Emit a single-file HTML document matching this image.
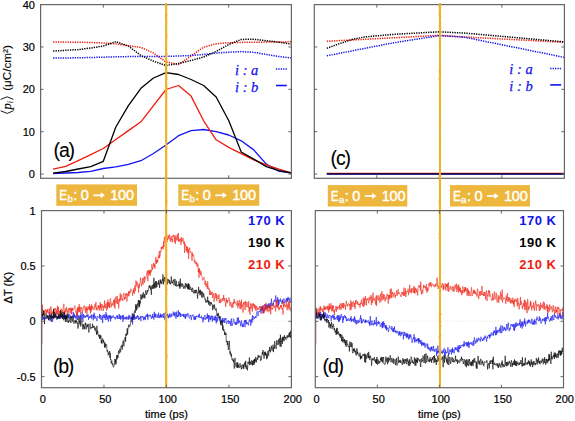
<!DOCTYPE html>
<html><head><meta charset="utf-8"><style>
html,body{margin:0;padding:0;background:#fff;}
body{width:575px;height:421px;overflow:hidden;}
svg{display:block;font-family:"Liberation Sans",sans-serif;}
</style></head><body>
<svg width="575" height="421" viewBox="0 0 575 421">
<rect width="575" height="421" fill="#fff"/>
<polyline points="53.14,42.10 65.68,42.10 78.22,42.20 90.76,42.50 103.30,43.00 115.84,43.90 128.38,45.70 140.92,47.40 153.46,53.00 166.00,62.00 178.54,64.50 191.08,55.80 203.62,47.20 216.16,43.80 228.70,42.80 241.24,42.40 253.78,42.20 266.32,42.10 278.86,42.00 291.40,41.80" fill="none" stroke="#ee1c0e" stroke-width="1.5" stroke-dasharray="1.3 1.1" stroke-linejoin="round" opacity="1"/>
<polyline points="53.14,58.10 65.68,58.00 78.22,57.80 90.76,57.50 103.30,57.20 115.84,56.80 128.38,56.60 140.92,56.50 153.46,56.40 166.00,56.40 178.54,56.00 191.08,55.50 203.62,54.50 216.16,53.00 228.70,52.20 241.24,51.60 253.78,52.30 266.32,54.50 278.86,56.50 291.40,58.00" fill="none" stroke="#1414ee" stroke-width="1.5" stroke-dasharray="1.3 1.1" stroke-linejoin="round" opacity="1"/>
<polyline points="53.14,51.10 65.68,50.30 78.22,49.60 90.76,48.00 103.30,46.00 115.84,41.70 128.38,46.00 140.92,55.50 153.46,61.20 166.00,65.50 178.54,63.50 191.08,60.50 203.62,57.00 216.16,51.50 228.70,44.50 241.24,39.40 253.78,39.30 266.32,40.70 278.86,42.20 291.40,44.10" fill="none" stroke="#000" stroke-width="1.5" stroke-dasharray="1.3 1.1" stroke-linejoin="round" opacity="1"/>
<polyline points="53.14,173.50 65.68,173.00 78.22,172.50 90.76,171.40 103.30,168.50 115.84,166.80 128.38,164.30 140.92,160.70 153.46,153.50 166.00,145.00 178.54,135.70 191.08,130.70 203.62,129.50 216.16,131.60 228.70,135.00 241.24,140.80 253.78,149.90 266.32,164.10 278.86,171.20 291.40,173.20" fill="none" stroke="#1414ee" stroke-width="1.3" stroke-linejoin="round" opacity="1"/>
<polyline points="53.14,169.20 65.68,166.40 78.22,160.60 90.76,154.60 103.30,148.50 115.84,139.50 128.38,130.60 140.92,121.80 153.46,105.60 166.00,89.50 178.54,85.50 191.08,96.10 203.62,120.80 216.16,139.80 228.70,147.40 241.24,153.60 253.78,159.90 266.32,164.90 278.86,169.10 291.40,172.90" fill="none" stroke="#ee1c0e" stroke-width="1.3" stroke-linejoin="round" opacity="1"/>
<polyline points="53.14,173.20 65.68,171.50 78.22,169.00 90.76,166.60 103.30,161.30 115.84,127.00 128.38,105.60 140.92,88.30 153.46,78.00 166.00,72.70 178.54,74.50 191.08,79.50 203.62,85.50 216.16,97.00 228.70,120.50 241.24,152.00 253.78,159.10 266.32,166.60 278.86,170.70 291.40,172.90" fill="none" stroke="#000" stroke-width="1.3" stroke-linejoin="round" opacity="1"/>
<polyline points="326.81,41.27 339.31,40.62 351.81,39.98 364.32,39.33 376.82,38.69 389.33,38.04 401.83,37.37 414.34,36.68 426.85,36.00 439.35,35.31 451.86,36.12 464.36,36.96 476.87,37.63 489.37,38.30 501.88,38.97 514.38,39.63 526.88,40.30 539.39,40.97 551.89,41.63 564.40,42.30" fill="none" stroke="#ee1c0e" stroke-width="1.5" stroke-dasharray="1.3 1.1" stroke-linejoin="round" opacity="1"/>
<polyline points="326.81,55.78 339.31,53.35 351.81,50.91 364.32,48.48 376.82,46.04 389.33,43.61 401.83,41.48 414.34,39.53 426.85,37.57 439.35,35.62 451.86,36.42 464.36,37.26 476.87,39.70 489.37,42.23 501.88,44.76 514.38,47.29 526.88,49.81 539.39,52.34 551.89,54.87 564.40,57.40" fill="none" stroke="#1414ee" stroke-width="1.5" stroke-dasharray="1.3 1.1" stroke-linejoin="round" opacity="1"/>
<polyline points="326.81,48.28 339.31,43.69 351.81,39.57 364.32,36.98 376.82,35.85 389.33,34.72 401.83,33.87 414.34,33.18 426.85,32.50 439.35,31.81 451.86,32.43 464.36,33.07 476.87,34.15 489.37,35.26 501.88,36.36 514.38,37.47 526.88,38.58 539.39,39.69 551.89,40.79 564.40,41.90" fill="none" stroke="#000" stroke-width="1.5" stroke-dasharray="1.3 1.1" stroke-linejoin="round" opacity="1"/>
<polyline points="326.81,173.50 339.31,173.50 351.81,173.50 364.32,173.50 376.82,173.50 389.33,173.50 401.83,173.50 414.34,173.50 426.85,173.50 439.35,173.50 451.86,173.50 464.36,173.50 476.87,173.50 489.37,173.50 501.88,173.50 514.38,173.50 526.88,173.50 539.39,173.50 551.89,173.50 564.40,173.50" fill="none" stroke="#ee1c0e" stroke-width="1.3" stroke-linejoin="round" opacity="1"/>
<polyline points="326.81,174.10 339.31,174.10 351.81,174.10 364.32,174.10 376.82,174.10 389.33,174.10 401.83,174.10 414.34,174.10 426.85,174.10 439.35,174.10 451.86,174.10 464.36,174.10 476.87,174.10 489.37,174.10 501.88,174.10 514.38,174.10 526.88,174.10 539.39,174.10 551.89,174.10 564.40,174.10" fill="none" stroke="#1414ee" stroke-width="1.3" stroke-linejoin="round" opacity="1"/>
<polyline points="326.81,173.80 339.31,173.80 351.81,173.80 364.32,173.80 376.82,173.80 389.33,173.80 401.83,173.80 414.34,173.80 426.85,173.80 439.35,173.80 451.86,173.80 464.36,173.80 476.87,173.80 489.37,173.80 501.88,173.80 514.38,173.80 526.88,173.80 539.39,173.80 551.89,173.80 564.40,173.80" fill="none" stroke="#000" stroke-width="1.2" stroke-linejoin="round" opacity="0.8"/>
<line x1="41.5" y1="321.29" x2="291.4" y2="321.29" stroke="#ccc" stroke-width="0.6" stroke-dasharray="1 2"/>
<line x1="315.3" y1="321.29" x2="563.5" y2="321.29" stroke="#ccc" stroke-width="0.6" stroke-dasharray="1 2"/>
<line x1="42.20" y1="314.6" x2="42.20" y2="344.5" stroke="#a02020" stroke-width="0.9" opacity="0.45"/>
<line x1="316.00" y1="314.6" x2="316.00" y2="344.5" stroke="#a02020" stroke-width="0.9" opacity="0.45"/>
<polyline points="41.5,318.9 41.8,319.8 42.2,318.8 42.5,315.5 42.8,319.9 43.2,319.0 43.5,317.0 43.8,319.2 44.2,318.8 44.5,318.6 44.8,318.0 45.2,319.1 45.5,316.5 45.8,317.6 46.2,316.9 46.5,319.1 46.8,317.9 47.2,317.3 47.5,316.3 47.8,317.3 48.2,317.8 48.5,317.2 48.8,320.3 49.2,319.7 49.5,312.3 49.8,313.9 50.2,317.3 50.5,316.8 50.8,318.1 51.2,318.0 51.5,321.8 51.8,315.3 52.2,316.8 52.5,321.6 52.8,318.8 53.2,318.8 53.5,316.4 53.8,314.1 54.2,317.8 54.5,317.6 54.8,314.9 55.2,316.0 55.5,317.2 55.8,315.4 56.2,317.1 56.5,317.5 56.8,317.3 57.2,316.2 57.5,318.4 57.8,319.0 58.2,317.8 58.5,315.5 58.8,318.6 59.2,316.1 59.5,318.9 59.9,314.9 60.2,318.9 60.5,317.0 60.9,314.5 61.2,316.4 61.5,317.1 61.9,317.5 62.2,315.0 62.5,314.7 62.9,317.3 63.2,315.9 63.5,317.3 63.9,318.4 64.2,313.5 64.5,317.3 64.9,319.2 65.2,316.2 65.5,315.1 65.9,318.2 66.2,317.2 66.5,318.5 66.9,316.0 67.2,313.7 67.5,316.4 67.9,315.7 68.2,318.1 68.5,316.9 68.9,313.3 69.2,314.1 69.5,318.3 69.9,317.8 70.2,315.2 70.5,316.4 70.9,317.3 71.2,317.3 71.5,318.1 71.9,316.9 72.2,316.1 72.5,315.8 72.9,318.4 73.2,311.8 73.5,316.1 73.9,316.4 74.2,313.5 74.5,317.0 74.9,315.1 75.2,318.1 75.5,316.2 75.9,317.8 76.2,318.9 76.5,317.2 76.9,314.7 77.2,313.4 77.5,320.0 77.9,316.3 78.2,315.1 78.5,316.8 78.9,316.1 79.2,318.2 79.5,316.6 79.9,316.6 80.2,315.1 80.5,317.5 80.9,314.5 81.2,317.9 81.5,319.7 81.9,313.6 82.2,311.7 82.5,317.9 82.9,321.8 83.2,314.7 83.5,314.2 83.9,317.9 84.2,315.0 84.5,315.7 84.9,316.0 85.2,317.8 85.5,315.9 85.9,317.3 86.2,316.4 86.5,315.1 86.9,316.2 87.2,314.9 87.5,316.8 87.9,314.6 88.2,314.7 88.5,319.8 88.9,316.8 89.2,316.8 89.5,317.9 89.9,316.1 90.2,316.5 90.5,317.8 90.9,317.5 91.2,314.6 91.5,318.6 91.9,315.8 92.2,314.9 92.5,315.2 92.9,316.2 93.2,320.3 93.5,314.7 93.9,317.4 94.2,312.8 94.5,317.1 94.9,318.9 95.2,316.6 95.6,315.9 95.9,317.6 96.2,318.5 96.6,318.5 96.9,321.1 97.2,317.6 97.6,316.0 97.9,316.9 98.2,317.1 98.6,317.4 98.9,317.2 99.2,317.6 99.6,313.9 99.9,318.9 100.2,316.1 100.6,314.9 100.9,318.6 101.2,320.0 101.6,318.3 101.9,317.7 102.2,315.5 102.6,323.1 102.9,319.1 103.2,315.1 103.6,315.8 103.9,317.6 104.2,314.3 104.6,317.8 104.9,316.5 105.2,319.9 105.6,319.4 105.9,312.1 106.2,317.6 106.6,314.3 106.9,319.8 107.2,317.9 107.6,318.7 107.9,315.4 108.2,321.2 108.6,321.6 108.9,315.5 109.2,318.4 109.6,316.3 109.9,317.6 110.2,315.1 110.6,321.4 110.9,315.8 111.2,317.1 111.6,318.7 111.9,316.5 112.2,317.3 112.6,316.6 112.9,317.5 113.2,315.5 113.6,316.9 113.9,317.4 114.2,317.2 114.6,318.0 114.9,317.3 115.2,319.4 115.6,317.3 115.9,317.6 116.2,316.6 116.6,316.9 116.9,315.4 117.2,319.0 117.6,315.7 117.9,316.5 118.2,318.7 118.6,318.8 118.9,317.2 119.2,314.0 119.6,318.9 119.9,318.6 120.2,315.3 120.6,319.7 120.9,316.7 121.2,315.9 121.6,318.3 121.9,317.8 122.2,318.6 122.6,315.0 122.9,321.8 123.2,317.0 123.6,315.2 123.9,319.5 124.2,317.6 124.6,318.9 124.9,317.6 125.2,318.2 125.6,318.8 125.9,316.8 126.2,319.7 126.6,317.4 126.9,316.6 127.2,318.5 127.6,319.3 127.9,318.0 128.2,316.7 128.6,319.7 128.9,314.9 129.2,316.4 129.6,318.6 129.9,315.8 130.2,318.6 130.6,318.4 130.9,320.3 131.3,316.6 131.6,317.1 131.9,319.0 132.3,313.4 132.6,324.5 132.9,316.9 133.3,316.8 133.6,319.9 133.9,318.1 134.3,314.6 134.6,319.4 134.9,319.8 135.3,317.2 135.6,317.5 135.9,319.0 136.3,316.2 136.6,318.8 136.9,318.3 137.3,316.5 137.6,315.1 137.9,317.4 138.3,316.1 138.6,319.8 138.9,318.0 139.3,319.3 139.6,318.0 139.9,318.2 140.3,316.1 140.6,318.9 140.9,321.1 141.3,316.9 141.6,316.3 141.9,317.2 142.3,316.5 142.6,316.0 142.9,317.7 143.3,316.8 143.6,320.2 143.9,317.3 144.3,317.9 144.6,319.2 144.9,316.6 145.3,320.1 145.6,315.9 145.9,315.5 146.3,316.4 146.6,316.8 146.9,314.2 147.3,316.9 147.6,313.6 147.9,319.7 148.3,316.8 148.6,315.6 148.9,315.0 149.3,316.1 149.6,316.4 149.9,314.7 150.3,314.9 150.6,316.3 150.9,315.6 151.3,318.5 151.6,318.9 151.9,316.6 152.3,317.5 152.6,313.9 152.9,317.8 153.3,316.4 153.6,317.4 153.9,319.6 154.3,311.8 154.6,316.9 154.9,314.1 155.3,317.5 155.6,313.6 155.9,315.3 156.3,316.6 156.6,317.4 156.9,316.3 157.3,314.5 157.6,315.0 157.9,317.8 158.3,316.0 158.6,312.6 158.9,317.7 159.3,316.8 159.6,317.7 159.9,315.2 160.3,317.5 160.6,313.7 160.9,316.9 161.3,314.8 161.6,317.1 161.9,317.7 162.3,314.2 162.6,315.5 162.9,315.7 163.3,318.0 163.6,317.0 163.9,313.1 164.3,316.4 164.6,317.0 164.9,319.7 165.3,312.1 165.6,314.3 165.9,318.0 166.3,312.6 166.6,312.9 167.0,316.3 167.3,317.3 167.6,313.9 168.0,316.3 168.3,315.5 168.6,318.2 169.0,315.2 169.3,317.2 169.6,313.4 170.0,314.8 170.3,314.9 170.6,317.4 171.0,316.3 171.3,313.6 171.6,316.4 172.0,316.6 172.3,314.8 172.6,314.5 173.0,314.6 173.3,311.6 173.6,315.3 174.0,315.4 174.3,313.2 174.6,316.4 175.0,312.2 175.3,313.8 175.6,313.9 176.0,318.8 176.3,311.6 176.6,315.9 177.0,316.7 177.3,315.5 177.6,317.1 178.0,312.7 178.3,310.2 178.6,316.3 179.0,312.3 179.3,314.0 179.6,312.3 180.0,316.8 180.3,316.4 180.6,313.3 181.0,316.5 181.3,315.0 181.6,314.5 182.0,315.0 182.3,314.5 182.6,316.1 183.0,315.6 183.3,314.3 183.6,317.0 184.0,313.8 184.3,315.7 184.6,316.0 185.0,318.1 185.3,314.2 185.6,318.7 186.0,315.6 186.3,314.9 186.6,314.0 187.0,316.6 187.3,315.5 187.6,313.3 188.0,313.3 188.3,314.4 188.6,314.2 189.0,317.8 189.3,318.4 189.6,317.4 190.0,316.4 190.3,314.9 190.6,315.9 191.0,317.6 191.3,320.1 191.6,317.7 192.0,315.4 192.3,316.1 192.6,315.1 193.0,314.5 193.3,315.7 193.6,316.5 194.0,319.8 194.3,316.3 194.6,319.0 195.0,319.8 195.3,316.5 195.6,319.6 196.0,317.8 196.3,315.6 196.6,317.0 197.0,316.6 197.3,316.1 197.6,316.2 198.0,316.9 198.3,317.5 198.6,314.9 199.0,316.7 199.3,313.7 199.6,317.3 200.0,318.1 200.3,317.2 200.6,317.5 201.0,318.1 201.3,315.7 201.6,316.6 202.0,318.1 202.3,319.1 202.7,317.9 203.0,322.3 203.3,317.1 203.7,319.3 204.0,319.9 204.3,317.1 204.7,315.8 205.0,315.1 205.3,317.8 205.7,319.7 206.0,318.1 206.3,318.0 206.7,316.9 207.0,318.8 207.3,313.5 207.7,318.2 208.0,317.9 208.3,315.1 208.7,322.2 209.0,315.2 209.3,315.8 209.7,315.6 210.0,320.3 210.3,316.3 210.7,319.5 211.0,319.4 211.3,318.7 211.7,315.6 212.0,317.1 212.3,321.7 212.7,315.8 213.0,316.8 213.3,318.1 213.7,320.1 214.0,319.0 214.3,320.1 214.7,316.5 215.0,320.6 215.3,319.8 215.7,315.6 216.0,321.9 216.3,323.4 216.7,317.3 217.0,319.0 217.3,321.7 217.7,316.0 218.0,315.0 218.3,316.5 218.7,318.0 219.0,318.0 219.3,320.4 219.7,319.8 220.0,316.8 220.3,320.5 220.7,323.2 221.0,321.9 221.3,321.6 221.7,319.8 222.0,321.8 222.3,318.0 222.7,321.5 223.0,319.9 223.3,322.5 223.7,321.2 224.0,318.2 224.3,320.8 224.7,323.0 225.0,318.4 225.3,319.7 225.7,319.4 226.0,318.0 226.3,323.0 226.7,323.8 227.0,322.9 227.3,321.9 227.7,321.4 228.0,322.1 228.3,320.2 228.7,323.6 229.0,323.9 229.3,323.8 229.7,320.9 230.0,322.2 230.3,321.7 230.7,325.7 231.0,322.5 231.3,318.5 231.7,323.1 232.0,326.1 232.3,323.8 232.7,324.2 233.0,322.6 233.3,318.6 233.7,319.0 234.0,320.2 234.3,322.5 234.7,323.4 235.0,324.2 235.3,322.2 235.7,324.9 236.0,322.5 236.3,321.7 236.7,324.8 237.0,321.4 237.3,317.8 237.7,321.2 238.0,323.6 238.4,317.3 238.7,322.8 239.0,322.9 239.4,320.7 239.7,320.7 240.0,322.8 240.4,322.6 240.7,326.2 241.0,324.3 241.4,320.4 241.7,321.7 242.0,324.8 242.4,327.1 242.7,324.0 243.0,323.8 243.4,326.9 243.7,323.1 244.0,322.4 244.4,320.2 244.7,321.9 245.0,327.2 245.4,320.0 245.7,322.8 246.0,319.9 246.4,322.9 246.7,324.3 247.0,322.0 247.4,323.9 247.7,323.8 248.0,323.0 248.4,325.3 248.7,323.2 249.0,320.8 249.4,319.8 249.7,319.3 250.0,321.7 250.4,319.8 250.7,325.7 251.0,323.7 251.4,319.3 251.7,318.9 252.0,322.7 252.4,315.2 252.7,317.8 253.0,320.3 253.4,316.3 253.7,316.9 254.0,316.9 254.4,318.6 254.7,317.2 255.0,317.5 255.4,317.6 255.7,316.2 256.0,318.0 256.4,314.1 256.7,312.3 257.0,311.4 257.4,311.4 257.7,313.2 258.0,316.1 258.4,314.1 258.7,312.3 259.0,311.0 259.4,311.8 259.7,311.8 260.0,311.2 260.4,309.1 260.7,310.8 261.0,313.5 261.4,306.8 261.7,310.4 262.0,306.4 262.4,310.7 262.7,308.6 263.0,305.7 263.4,309.8 263.7,313.0 264.0,309.3 264.4,311.2 264.7,308.5 265.0,304.0 265.4,309.1 265.7,307.0 266.0,304.7 266.4,308.9 266.7,307.7 267.0,305.8 267.4,308.3 267.7,304.6 268.0,307.4 268.4,304.0 268.7,306.7 269.0,303.1 269.4,308.1 269.7,305.3 270.0,307.5 270.4,302.9 270.7,303.4 271.0,306.0 271.4,298.7 271.7,301.9 272.0,306.0 272.4,304.7 272.7,305.6 273.0,302.9 273.4,304.6 273.7,301.8 274.1,300.4 274.4,299.7 274.7,301.8 275.1,301.7 275.4,301.5 275.7,295.5 276.1,298.5 276.4,301.3 276.7,302.8 277.1,301.0 277.4,300.2 277.7,297.3 278.1,305.8 278.4,299.4 278.7,304.9 279.1,304.5 279.4,301.8 279.7,300.0 280.1,301.3 280.4,298.6 280.7,301.3 281.1,300.8 281.4,301.8 281.7,302.7 282.1,304.2 282.4,299.9 282.7,302.8 283.1,299.1 283.4,298.9 283.7,299.4 284.1,298.7 284.4,302.6 284.7,302.4 285.1,303.1 285.4,300.5 285.7,301.1 286.1,299.4 286.4,298.2 286.7,301.4 287.1,301.0 287.4,298.2 287.7,301.6 288.1,296.9 288.4,300.1 288.7,299.1 289.1,299.3 289.4,298.2 289.7,302.2 290.1,301.5 290.4,302.7 290.7,300.6 291.1,297.7 291.4,299.5" fill="none" stroke="#1414ee" stroke-width="0.6" opacity="1.0"/>
<polyline points="41.5,312.2 41.8,310.2 42.2,310.5 42.5,304.8 42.8,316.6 43.2,314.8 43.5,310.7 43.8,313.7 44.2,312.3 44.5,310.0 44.8,314.2 45.2,310.6 45.5,310.6 45.8,309.2 46.2,312.7 46.5,311.1 46.8,312.9 47.2,309.7 47.5,311.7 47.8,308.9 48.2,313.7 48.5,311.9 48.8,312.2 49.2,312.5 49.5,308.5 49.8,313.5 50.2,317.0 50.5,306.7 50.8,306.4 51.2,307.0 51.5,313.6 51.8,311.5 52.2,314.2 52.5,313.2 52.8,311.7 53.2,311.9 53.5,310.6 53.8,313.5 54.2,307.9 54.5,309.9 54.8,311.7 55.2,316.1 55.5,308.9 55.8,308.0 56.2,309.4 56.5,313.7 56.8,310.3 57.2,314.6 57.5,305.7 57.8,314.1 58.2,313.8 58.5,306.9 58.8,311.3 59.2,314.2 59.5,311.1 59.9,313.6 60.2,317.4 60.5,311.5 60.9,310.0 61.2,308.6 61.5,312.6 61.9,310.2 62.2,310.2 62.5,310.4 62.9,312.5 63.2,307.7 63.5,306.4 63.9,303.8 64.2,314.0 64.5,310.8 64.9,314.8 65.2,310.5 65.5,308.5 65.9,311.9 66.2,310.3 66.5,307.0 66.9,308.0 67.2,315.4 67.5,311.5 67.9,311.6 68.2,309.7 68.5,308.5 68.9,312.9 69.2,310.1 69.5,308.2 69.9,310.0 70.2,307.8 70.5,310.9 70.9,313.5 71.2,307.9 71.5,314.3 71.9,308.4 72.2,310.7 72.5,307.9 72.9,309.6 73.2,310.3 73.5,308.9 73.9,308.1 74.2,308.2 74.5,307.7 74.9,305.6 75.2,309.2 75.5,311.1 75.9,312.5 76.2,311.7 76.5,316.7 76.9,310.7 77.2,308.5 77.5,315.0 77.9,306.8 78.2,312.4 78.5,307.0 78.9,310.6 79.2,304.1 79.5,312.1 79.9,309.1 80.2,306.8 80.5,314.2 80.9,311.6 81.2,309.5 81.5,307.3 81.9,309.2 82.2,308.8 82.5,311.3 82.9,311.5 83.2,307.3 83.5,307.6 83.9,307.6 84.2,305.3 84.5,307.4 84.9,308.8 85.2,310.9 85.5,312.7 85.9,306.7 86.2,310.4 86.5,307.6 86.9,314.6 87.2,308.7 87.5,310.2 87.9,306.1 88.2,306.4 88.5,309.2 88.9,307.6 89.2,309.6 89.5,304.2 89.9,310.4 90.2,306.0 90.5,313.3 90.9,307.6 91.2,311.5 91.5,304.5 91.9,309.5 92.2,305.8 92.5,306.9 92.9,308.3 93.2,307.3 93.5,308.9 93.9,310.2 94.2,309.9 94.5,307.8 94.9,304.2 95.2,305.8 95.6,307.4 95.9,302.0 96.2,310.0 96.6,307.2 96.9,307.2 97.2,310.5 97.6,309.7 97.9,308.4 98.2,305.0 98.6,308.7 98.9,308.7 99.2,305.3 99.6,310.6 99.9,309.1 100.2,302.2 100.6,307.9 100.9,303.9 101.2,310.5 101.6,309.5 101.9,304.0 102.2,304.5 102.6,307.1 102.9,306.0 103.2,310.9 103.6,308.5 103.9,305.6 104.2,307.8 104.6,300.4 104.9,306.8 105.2,308.3 105.6,305.2 105.9,303.6 106.2,307.1 106.6,310.9 106.9,305.8 107.2,302.0 107.6,309.1 107.9,299.6 108.2,306.2 108.6,303.0 108.9,307.1 109.2,302.0 109.6,308.0 109.9,305.0 110.2,299.2 110.6,298.4 110.9,302.9 111.2,307.3 111.6,303.9 111.9,303.6 112.2,302.7 112.6,305.3 112.9,304.1 113.2,303.7 113.6,300.1 113.9,306.0 114.2,306.4 114.6,298.8 114.9,308.7 115.2,304.1 115.6,300.5 115.9,296.4 116.2,303.4 116.6,303.0 116.9,299.6 117.2,296.1 117.6,304.1 117.9,299.1 118.2,299.3 118.6,308.4 118.9,306.2 119.2,302.8 119.6,298.7 119.9,301.6 120.2,293.2 120.6,299.8 120.9,297.2 121.2,295.5 121.6,294.5 121.9,300.3 122.2,298.9 122.6,298.9 122.9,300.7 123.2,295.8 123.6,294.5 123.9,292.9 124.2,296.7 124.6,299.6 124.9,296.9 125.2,299.0 125.6,293.7 125.9,295.5 126.2,294.5 126.6,293.0 126.9,301.6 127.2,298.6 127.6,293.9 127.9,293.7 128.2,295.6 128.6,291.5 128.9,296.4 129.2,291.2 129.6,293.4 129.9,291.3 130.2,292.5 130.6,289.8 130.9,288.7 131.3,290.1 131.6,290.6 131.9,291.3 132.3,292.0 132.6,295.7 132.9,293.4 133.3,290.1 133.6,292.5 133.9,288.2 134.3,293.9 134.6,291.0 134.9,285.3 135.3,290.9 135.6,290.7 135.9,280.6 136.3,285.7 136.6,286.1 136.9,281.6 137.3,283.7 137.6,283.6 137.9,287.3 138.3,286.4 138.6,292.5 138.9,283.7 139.3,287.7 139.6,284.3 139.9,284.5 140.3,280.1 140.6,277.6 140.9,280.4 141.3,284.3 141.6,286.3 141.9,283.2 142.3,282.5 142.6,278.4 142.9,284.7 143.3,283.8 143.6,278.2 143.9,279.2 144.3,276.2 144.6,282.7 144.9,279.4 145.3,277.6 145.6,278.7 145.9,278.4 146.3,275.6 146.6,273.0 146.9,272.5 147.3,270.9 147.6,276.7 147.9,281.2 148.3,269.9 148.6,274.7 148.9,275.1 149.3,270.8 149.6,273.8 149.9,269.8 150.3,275.8 150.6,270.2 150.9,271.4 151.3,272.4 151.6,268.7 151.9,264.2 152.3,267.1 152.6,270.0 152.9,267.0 153.3,267.3 153.6,262.9 153.9,265.7 154.3,266.7 154.6,264.1 154.9,268.7 155.3,262.1 155.6,259.1 155.9,256.9 156.3,264.0 156.6,259.9 156.9,262.2 157.3,259.9 157.6,262.5 157.9,260.8 158.3,255.5 158.6,256.6 158.9,258.2 159.3,250.9 159.6,257.8 159.9,256.4 160.3,255.0 160.6,251.0 160.9,251.7 161.3,247.0 161.6,249.6 161.9,247.1 162.3,248.3 162.6,245.9 162.9,247.4 163.3,249.1 163.6,241.4 163.9,247.0 164.3,238.1 164.6,236.8 164.9,241.8 165.3,241.4 165.6,241.9 165.9,235.3 166.3,239.0 166.6,239.1 167.0,242.0 167.3,238.0 167.6,239.6 168.0,235.2 168.3,237.2 168.6,236.3 169.0,239.3 169.3,234.4 169.6,234.6 170.0,238.4 170.3,241.7 170.6,237.9 171.0,237.8 171.3,236.1 171.6,240.3 172.0,238.9 172.3,242.4 172.6,238.6 173.0,235.2 173.3,236.4 173.6,235.4 174.0,234.8 174.3,242.0 174.6,240.8 175.0,235.3 175.3,243.9 175.6,239.7 176.0,236.5 176.3,240.4 176.6,239.3 177.0,237.4 177.3,234.3 177.6,239.9 178.0,240.8 178.3,232.9 178.6,241.8 179.0,242.1 179.3,239.1 179.6,240.9 180.0,239.9 180.3,238.5 180.6,239.9 181.0,244.9 181.3,237.1 181.6,242.0 182.0,242.0 182.3,239.6 182.6,240.5 183.0,237.9 183.3,239.7 183.6,242.7 184.0,244.2 184.3,241.3 184.6,253.0 185.0,243.4 185.3,245.9 185.6,245.5 186.0,245.6 186.3,250.9 186.6,246.5 187.0,252.2 187.3,252.2 187.6,246.6 188.0,253.1 188.3,248.9 188.6,259.0 189.0,250.8 189.3,249.8 189.6,247.7 190.0,250.0 190.3,252.5 190.6,251.8 191.0,251.7 191.3,253.7 191.6,255.6 192.0,260.8 192.3,252.5 192.6,256.2 193.0,255.6 193.3,254.6 193.6,255.8 194.0,257.3 194.3,262.4 194.6,260.4 195.0,259.9 195.3,263.7 195.6,263.3 196.0,262.4 196.3,264.6 196.6,261.9 197.0,266.7 197.3,266.9 197.6,265.2 198.0,263.6 198.3,272.0 198.6,268.8 199.0,277.8 199.3,268.1 199.6,273.1 200.0,270.2 200.3,272.8 200.6,275.2 201.0,271.3 201.3,274.0 201.6,275.5 202.0,276.1 202.3,278.2 202.7,280.2 203.0,280.4 203.3,279.6 203.7,278.7 204.0,277.3 204.3,279.2 204.7,280.5 205.0,284.7 205.3,282.5 205.7,280.8 206.0,286.8 206.3,283.6 206.7,284.4 207.0,286.4 207.3,288.9 207.7,281.3 208.0,285.4 208.3,289.6 208.7,288.6 209.0,287.7 209.3,289.1 209.7,295.0 210.0,290.3 210.3,294.1 210.7,294.8 211.0,291.8 211.3,294.8 211.7,292.8 212.0,292.9 212.3,291.9 212.7,298.0 213.0,295.0 213.3,294.9 213.7,293.4 214.0,301.8 214.3,298.9 214.7,296.6 215.0,295.2 215.3,293.0 215.7,298.2 216.0,298.4 216.3,293.7 216.7,301.1 217.0,300.1 217.3,295.4 217.7,296.7 218.0,297.2 218.3,299.0 218.7,298.3 219.0,294.2 219.3,303.1 219.7,300.0 220.0,302.8 220.3,302.9 220.7,298.9 221.0,300.6 221.3,301.8 221.7,302.1 222.0,299.6 222.3,298.4 222.7,300.4 223.0,298.2 223.3,299.0 223.7,295.0 224.0,301.1 224.3,298.1 224.7,299.5 225.0,301.1 225.3,302.2 225.7,306.8 226.0,302.2 226.3,297.8 226.7,302.2 227.0,300.3 227.3,303.3 227.7,300.4 228.0,300.4 228.3,301.1 228.7,300.8 229.0,297.5 229.3,300.8 229.7,302.7 230.0,306.2 230.3,302.1 230.7,301.9 231.0,304.6 231.3,304.6 231.7,307.6 232.0,304.8 232.3,303.2 232.7,307.1 233.0,307.7 233.3,302.1 233.7,304.0 234.0,298.9 234.3,302.6 234.7,301.2 235.0,303.2 235.3,302.5 235.7,303.4 236.0,303.7 236.3,305.4 236.7,304.7 237.0,302.6 237.3,300.6 237.7,307.7 238.0,308.3 238.4,303.1 238.7,306.0 239.0,300.3 239.4,300.2 239.7,303.9 240.0,308.8 240.4,301.9 240.7,302.5 241.0,309.4 241.4,299.7 241.7,306.8 242.0,306.5 242.4,304.6 242.7,305.8 243.0,312.6 243.4,302.2 243.7,304.5 244.0,304.8 244.4,303.6 244.7,301.8 245.0,310.1 245.4,306.3 245.7,300.9 246.0,303.9 246.4,307.1 246.7,307.1 247.0,302.0 247.4,305.9 247.7,306.9 248.0,307.3 248.4,307.4 248.7,301.2 249.0,311.6 249.4,307.0 249.7,311.6 250.0,314.6 250.4,306.2 250.7,303.2 251.0,309.1 251.4,306.3 251.7,305.6 252.0,304.0 252.4,311.7 252.7,305.7 253.0,303.1 253.4,305.8 253.7,303.9 254.0,307.6 254.4,306.1 254.7,304.4 255.0,309.1 255.4,305.6 255.7,309.5 256.0,311.1 256.4,306.6 256.7,305.8 257.0,308.3 257.4,310.2 257.7,307.8 258.0,308.2 258.4,307.8 258.7,308.8 259.0,309.8 259.4,306.1 259.7,306.8 260.0,308.3 260.4,306.4 260.7,308.7 261.0,309.8 261.4,308.3 261.7,306.8 262.0,306.2 262.4,313.3 262.7,310.8 263.0,305.2 263.4,305.9 263.7,313.5 264.0,312.5 264.4,308.6 264.7,311.4 265.0,304.0 265.4,308.1 265.7,310.1 266.0,302.8 266.4,305.8 266.7,310.2 267.0,311.1 267.4,306.3 267.7,308.7 268.0,312.3 268.4,306.8 268.7,304.1 269.0,307.6 269.4,306.6 269.7,311.3 270.0,308.1 270.4,305.4 270.7,314.3 271.0,306.2 271.4,308.9 271.7,309.4 272.0,309.7 272.4,307.9 272.7,309.1 273.0,307.2 273.4,303.4 273.7,306.7 274.1,306.7 274.4,306.8 274.7,307.6 275.1,305.5 275.4,310.9 275.7,311.5 276.1,300.9 276.4,307.1 276.7,305.1 277.1,299.7 277.4,308.1 277.7,305.2 278.1,305.9 278.4,305.1 278.7,310.0 279.1,310.4 279.4,307.7 279.7,308.9 280.1,306.6 280.4,307.4 280.7,304.9 281.1,307.1 281.4,305.0 281.7,308.1 282.1,309.3 282.4,307.9 282.7,310.4 283.1,314.6 283.4,301.2 283.7,307.1 284.1,305.5 284.4,305.8 284.7,303.3 285.1,307.3 285.4,306.4 285.7,305.4 286.1,306.4 286.4,305.5 286.7,300.6 287.1,310.2 287.4,306.4 287.7,304.6 288.1,308.1 288.4,305.4 288.7,301.2 289.1,309.7 289.4,302.6 289.7,306.7 290.1,307.6 290.4,311.1 290.7,310.7 291.1,307.8 291.4,305.2" fill="none" stroke="#ee1c0e" stroke-width="0.6" opacity="0.95"/>
<polyline points="41.5,320.9 41.8,309.4 42.2,316.8 42.5,314.4 42.8,314.7 43.2,315.3 43.5,310.8 43.8,315.2 44.2,313.7 44.5,324.1 44.8,316.4 45.2,315.0 45.5,315.2 45.8,314.2 46.2,313.3 46.5,314.9 46.8,317.1 47.2,315.3 47.5,318.3 47.8,315.4 48.2,316.0 48.5,319.8 48.8,317.3 49.2,314.7 49.5,315.5 49.8,317.4 50.2,320.8 50.5,315.3 50.8,315.4 51.2,318.5 51.5,313.8 51.8,315.3 52.2,318.3 52.5,317.5 52.8,316.3 53.2,317.8 53.5,309.0 53.8,318.7 54.2,313.7 54.5,312.0 54.8,316.8 55.2,317.9 55.5,315.1 55.8,313.5 56.2,316.3 56.5,316.1 56.8,319.7 57.2,318.1 57.5,316.7 57.8,319.0 58.2,315.7 58.5,313.9 58.8,317.7 59.2,317.7 59.5,315.7 59.9,314.3 60.2,316.9 60.5,310.2 60.9,318.2 61.2,317.8 61.5,312.6 61.9,317.0 62.2,314.5 62.5,318.9 62.9,312.0 63.2,314.9 63.5,319.1 63.9,320.3 64.2,312.1 64.5,316.4 64.9,318.6 65.2,316.3 65.5,321.9 65.9,315.1 66.2,319.0 66.5,315.6 66.9,321.9 67.2,318.4 67.5,317.6 67.9,314.4 68.2,323.0 68.5,320.8 68.9,320.9 69.2,321.9 69.5,320.1 69.9,317.7 70.2,317.4 70.5,317.5 70.9,323.0 71.2,316.1 71.5,318.3 71.9,319.1 72.2,320.6 72.5,321.6 72.9,317.1 73.2,316.0 73.5,320.5 73.9,323.7 74.2,322.7 74.5,321.5 74.9,320.3 75.2,321.9 75.5,320.7 75.9,323.5 76.2,319.6 76.5,322.1 76.9,321.6 77.2,323.4 77.5,322.7 77.9,328.6 78.2,326.2 78.5,326.3 78.9,317.6 79.2,322.0 79.5,321.4 79.9,324.4 80.2,317.5 80.5,326.3 80.9,326.2 81.2,320.4 81.5,321.3 81.9,321.9 82.2,324.1 82.5,325.8 82.9,329.4 83.2,324.0 83.5,326.5 83.9,325.1 84.2,329.3 84.5,326.8 84.9,328.5 85.2,322.6 85.5,324.9 85.9,323.4 86.2,329.3 86.5,327.3 86.9,325.0 87.2,324.7 87.5,327.2 87.9,324.3 88.2,323.9 88.5,327.5 88.9,332.5 89.2,325.9 89.5,325.2 89.9,323.8 90.2,323.5 90.5,328.2 90.9,329.1 91.2,327.1 91.5,328.0 91.9,327.6 92.2,327.8 92.5,323.7 92.9,326.5 93.2,328.0 93.5,325.9 93.9,326.7 94.2,326.0 94.5,327.3 94.9,330.4 95.2,327.6 95.6,328.7 95.9,331.6 96.2,331.7 96.6,334.8 96.9,325.8 97.2,333.7 97.6,330.8 97.9,332.8 98.2,335.1 98.6,336.2 98.9,336.5 99.2,334.8 99.6,338.9 99.9,334.7 100.2,335.5 100.6,338.4 100.9,335.5 101.2,342.7 101.6,340.4 101.9,343.7 102.2,338.7 102.6,338.3 102.9,340.4 103.2,342.5 103.6,339.9 103.9,343.0 104.2,342.7 104.6,347.5 104.9,342.5 105.2,347.5 105.6,344.0 105.9,343.9 106.2,345.2 106.6,344.7 106.9,348.8 107.2,351.7 107.6,350.2 107.9,352.1 108.2,355.3 108.6,352.6 108.9,353.3 109.2,353.2 109.6,351.0 109.9,358.0 110.2,352.8 110.6,359.9 110.9,359.3 111.2,363.3 111.6,361.4 111.9,360.6 112.2,364.6 112.6,363.4 112.9,365.5 113.2,367.1 113.6,367.2 113.9,366.2 114.2,363.8 114.6,364.6 114.9,358.9 115.2,363.0 115.6,359.6 115.9,364.5 116.2,364.1 116.6,355.2 116.9,359.6 117.2,358.1 117.6,355.0 117.9,358.1 118.2,354.8 118.6,350.7 118.9,353.6 119.2,353.1 119.6,352.9 119.9,348.7 120.2,352.4 120.6,351.8 120.9,346.1 121.2,346.4 121.6,346.9 121.9,344.8 122.2,349.7 122.6,344.9 122.9,340.9 123.2,340.6 123.6,341.5 123.9,346.4 124.2,339.3 124.6,339.1 124.9,339.2 125.2,336.9 125.6,341.8 125.9,333.8 126.2,336.0 126.6,333.6 126.9,333.8 127.2,328.3 127.6,334.7 127.9,329.0 128.2,328.4 128.6,325.1 128.9,324.6 129.2,326.9 129.6,327.0 129.9,325.4 130.2,325.6 130.6,323.4 130.9,320.7 131.3,321.8 131.6,320.2 131.9,317.5 132.3,318.8 132.6,319.4 132.9,316.0 133.3,313.7 133.6,315.6 133.9,317.8 134.3,311.7 134.6,311.2 134.9,310.3 135.3,312.9 135.6,304.5 135.9,309.2 136.3,310.5 136.6,304.6 136.9,309.6 137.3,306.7 137.6,303.5 137.9,304.9 138.3,300.0 138.6,302.0 138.9,307.5 139.3,300.2 139.6,306.5 139.9,301.2 140.3,303.4 140.6,300.5 140.9,294.3 141.3,298.0 141.6,299.4 141.9,295.6 142.3,294.6 142.6,298.4 142.9,295.4 143.3,292.3 143.6,294.5 143.9,297.9 144.3,294.2 144.6,297.3 144.9,298.4 145.3,294.2 145.6,290.9 145.9,290.1 146.3,292.9 146.6,294.8 146.9,292.8 147.3,293.1 147.6,290.2 147.9,291.7 148.3,289.4 148.6,289.3 148.9,286.5 149.3,285.4 149.6,287.7 149.9,285.8 150.3,285.9 150.6,289.7 150.9,287.5 151.3,294.8 151.6,289.6 151.9,285.5 152.3,288.7 152.6,287.4 152.9,284.6 153.3,288.8 153.6,283.9 153.9,277.9 154.3,287.3 154.6,283.5 154.9,288.5 155.3,282.9 155.6,281.3 155.9,287.9 156.3,281.1 156.6,284.1 156.9,286.9 157.3,283.3 157.6,282.6 157.9,282.8 158.3,284.5 158.6,280.3 158.9,283.7 159.3,283.5 159.6,287.8 159.9,281.0 160.3,279.5 160.6,283.5 160.9,280.5 161.3,282.1 161.6,281.6 161.9,284.1 162.3,279.4 162.6,280.7 162.9,274.4 163.3,278.5 163.6,284.4 163.9,278.8 164.3,278.6 164.6,277.2 164.9,281.6 165.3,280.5 165.6,276.9 165.9,281.4 166.3,280.5 166.6,281.8 167.0,278.5 167.3,284.5 167.6,281.3 168.0,280.0 168.3,279.1 168.6,279.9 169.0,282.8 169.3,280.0 169.6,283.5 170.0,282.3 170.3,284.3 170.6,283.1 171.0,281.0 171.3,276.5 171.6,282.1 172.0,283.4 172.3,281.9 172.6,283.0 173.0,280.5 173.3,280.9 173.6,279.5 174.0,285.4 174.3,282.5 174.6,280.9 175.0,278.9 175.3,282.0 175.6,286.1 176.0,283.7 176.3,280.8 176.6,286.3 177.0,286.4 177.3,285.4 177.6,285.0 178.0,286.0 178.3,284.6 178.6,285.2 179.0,281.4 179.3,287.2 179.6,284.1 180.0,288.7 180.3,278.7 180.6,285.7 181.0,286.6 181.3,283.4 181.6,285.6 182.0,286.5 182.3,286.2 182.6,283.6 183.0,284.7 183.3,287.8 183.6,288.6 184.0,285.8 184.3,285.9 184.6,286.3 185.0,288.6 185.3,283.5 185.6,283.0 186.0,286.8 186.3,283.8 186.6,285.3 187.0,287.1 187.3,288.3 187.6,284.6 188.0,289.4 188.3,283.1 188.6,289.1 189.0,283.9 189.3,284.8 189.6,289.8 190.0,287.3 190.3,286.5 190.6,287.5 191.0,290.0 191.3,288.8 191.6,289.1 192.0,292.0 192.3,287.7 192.6,288.5 193.0,288.5 193.3,292.9 193.6,292.6 194.0,293.5 194.3,290.4 194.6,290.3 195.0,292.9 195.3,290.0 195.6,293.2 196.0,293.1 196.3,289.7 196.6,291.4 197.0,291.5 197.3,296.3 197.6,298.6 198.0,292.1 198.3,292.5 198.6,286.9 199.0,293.3 199.3,293.0 199.6,290.5 200.0,295.3 200.3,289.7 200.6,293.3 201.0,294.5 201.3,291.3 201.6,296.9 202.0,297.6 202.3,291.8 202.7,292.0 203.0,297.4 203.3,296.1 203.7,293.4 204.0,296.0 204.3,296.7 204.7,296.9 205.0,299.6 205.3,298.8 205.7,302.5 206.0,301.8 206.3,300.3 206.7,301.6 207.0,302.5 207.3,301.3 207.7,296.7 208.0,302.2 208.3,300.5 208.7,304.7 209.0,301.1 209.3,302.5 209.7,302.3 210.0,306.0 210.3,302.7 210.7,302.0 211.0,303.9 211.3,302.5 211.7,304.4 212.0,304.4 212.3,305.6 212.7,310.1 213.0,304.7 213.3,306.3 213.7,306.1 214.0,308.7 214.3,304.5 214.7,306.2 215.0,308.3 215.3,310.4 215.7,309.5 216.0,308.9 216.3,308.5 216.7,312.7 217.0,315.8 217.3,313.8 217.7,314.2 218.0,315.6 218.3,312.9 218.7,315.3 219.0,316.2 219.3,318.3 219.7,318.3 220.0,316.1 220.3,322.7 220.7,324.9 221.0,320.8 221.3,323.2 221.7,323.7 222.0,325.7 222.3,320.8 222.7,329.5 223.0,325.5 223.3,331.0 223.7,329.3 224.0,329.3 224.3,331.2 224.7,335.0 225.0,331.8 225.3,334.2 225.7,335.1 226.0,333.2 226.3,342.0 226.7,341.4 227.0,341.1 227.3,345.2 227.7,341.1 228.0,344.4 228.3,350.0 228.7,349.3 229.0,342.4 229.3,340.8 229.7,347.7 230.0,354.1 230.3,351.4 230.7,353.1 231.0,356.4 231.3,353.8 231.7,357.6 232.0,360.2 232.3,360.0 232.7,360.4 233.0,358.5 233.3,361.8 233.7,360.0 234.0,364.9 234.3,368.6 234.7,360.9 235.0,357.9 235.3,362.8 235.7,365.2 236.0,367.0 236.3,367.2 236.7,362.7 237.0,362.8 237.3,368.0 237.7,362.2 238.0,367.8 238.4,364.6 238.7,367.2 239.0,367.2 239.4,367.5 239.7,367.7 240.0,363.3 240.4,366.6 240.7,366.0 241.0,366.9 241.4,369.3 241.7,365.7 242.0,364.7 242.4,364.7 242.7,365.9 243.0,368.4 243.4,364.3 243.7,369.1 244.0,366.7 244.4,365.3 244.7,362.3 245.0,366.1 245.4,367.1 245.7,360.8 246.0,368.0 246.4,369.0 246.7,365.5 247.0,365.7 247.4,370.4 247.7,367.3 248.0,361.8 248.4,363.8 248.7,363.3 249.0,363.2 249.4,357.5 249.7,365.1 250.0,361.4 250.4,363.3 250.7,362.4 251.0,364.7 251.4,361.6 251.7,360.2 252.0,363.4 252.4,365.4 252.7,360.9 253.0,365.0 253.4,362.0 253.7,359.9 254.0,364.9 254.4,358.8 254.7,363.2 255.0,359.2 255.4,361.4 255.7,356.9 256.0,357.7 256.4,362.3 256.7,359.8 257.0,359.2 257.4,357.8 257.7,359.8 258.0,355.0 258.4,355.5 258.7,357.7 259.0,355.7 259.4,355.9 259.7,357.2 260.0,356.8 260.4,356.4 260.7,360.9 261.0,359.0 261.4,359.4 261.7,356.0 262.0,354.6 262.4,352.0 262.7,354.5 263.0,350.0 263.4,353.5 263.7,356.6 264.0,358.6 264.4,356.7 264.7,351.9 265.0,355.1 265.4,351.7 265.7,355.5 266.0,352.9 266.4,355.1 266.7,359.2 267.0,354.8 267.4,358.1 267.7,352.5 268.0,351.0 268.4,355.0 268.7,355.7 269.0,349.8 269.4,351.1 269.7,347.0 270.0,349.9 270.4,352.3 270.7,349.6 271.0,348.1 271.4,345.8 271.7,349.9 272.0,350.7 272.4,350.0 272.7,348.8 273.0,344.7 273.4,352.1 273.7,347.2 274.1,346.8 274.4,348.7 274.7,341.2 275.1,346.1 275.4,345.7 275.7,346.7 276.1,348.9 276.4,346.4 276.7,340.4 277.1,343.8 277.4,344.9 277.7,344.5 278.1,340.7 278.4,339.4 278.7,344.7 279.1,343.9 279.4,342.7 279.7,338.2 280.1,346.7 280.4,334.7 280.7,340.8 281.1,346.7 281.4,340.8 281.7,341.5 282.1,337.7 282.4,343.8 282.7,336.9 283.1,340.5 283.4,340.0 283.7,336.7 284.1,341.3 284.4,335.3 284.7,336.9 285.1,338.2 285.4,337.0 285.7,339.0 286.1,339.8 286.4,336.5 286.7,335.7 287.1,335.5 287.4,335.6 287.7,338.2 288.1,335.4 288.4,336.7 288.7,335.2 289.1,333.1 289.4,337.1 289.7,332.1 290.1,334.4 290.4,337.9 290.7,331.1 291.1,333.5 291.4,329.4" fill="none" stroke="#000" stroke-width="0.6" opacity="1.0"/>
<polyline points="315.3,313.8 315.6,314.8 316.0,318.5 316.3,316.5 316.6,312.0 317.0,315.3 317.3,314.1 317.6,315.6 318.0,312.2 318.3,315.9 318.6,315.9 318.9,318.6 319.3,316.2 319.6,316.6 319.9,312.6 320.3,320.1 320.6,311.8 320.9,317.9 321.3,315.1 321.6,314.0 321.9,314.5 322.3,314.5 322.6,316.6 322.9,315.7 323.3,318.9 323.6,312.3 323.9,316.0 324.2,314.3 324.6,317.7 324.9,311.9 325.2,315.5 325.6,316.6 325.9,313.3 326.2,318.3 326.6,316.7 326.9,318.4 327.2,318.3 327.6,314.5 327.9,314.9 328.2,316.1 328.6,318.0 328.9,318.3 329.2,315.2 329.5,315.4 329.9,315.1 330.2,315.6 330.5,316.3 330.9,316.5 331.2,321.0 331.5,315.9 331.9,316.3 332.2,317.9 332.5,315.1 332.9,316.3 333.2,317.1 333.5,318.6 333.9,314.5 334.2,319.9 334.5,316.5 334.9,317.6 335.2,319.0 335.5,318.6 335.8,319.5 336.2,317.7 336.5,317.4 336.8,318.1 337.2,315.5 337.5,320.0 337.8,316.0 338.2,315.1 338.5,321.7 338.8,317.4 339.2,315.3 339.5,321.4 339.8,317.1 340.2,319.9 340.5,316.2 340.8,317.4 341.1,314.5 341.5,314.1 341.8,316.0 342.1,317.9 342.5,319.7 342.8,323.0 343.1,316.1 343.5,320.2 343.8,317.0 344.1,317.9 344.5,315.3 344.8,315.4 345.1,316.8 345.5,316.0 345.8,318.4 346.1,317.1 346.4,321.0 346.8,318.9 347.1,318.9 347.4,320.9 347.8,319.7 348.1,318.6 348.4,318.6 348.8,318.6 349.1,321.0 349.4,320.5 349.8,319.7 350.1,320.6 350.4,318.0 350.8,320.1 351.1,316.3 351.4,321.9 351.8,319.4 352.1,319.7 352.4,320.6 352.7,319.4 353.1,318.9 353.4,321.9 353.7,319.8 354.1,317.8 354.4,320.5 354.7,316.3 355.1,323.1 355.4,319.5 355.7,319.9 356.1,324.4 356.4,324.2 356.7,320.2 357.1,321.3 357.4,322.3 357.7,323.5 358.0,319.9 358.4,320.5 358.7,322.7 359.0,320.9 359.4,321.9 359.7,321.7 360.0,318.2 360.4,318.8 360.7,315.3 361.0,320.1 361.4,323.4 361.7,318.5 362.0,323.2 362.4,322.8 362.7,320.8 363.0,320.9 363.3,321.1 363.7,319.3 364.0,320.5 364.3,321.0 364.7,322.4 365.0,322.8 365.3,319.8 365.7,323.0 366.0,319.8 366.3,321.1 366.7,322.2 367.0,321.5 367.3,321.3 367.7,322.2 368.0,320.6 368.3,320.4 368.7,321.4 369.0,323.7 369.3,321.7 369.6,325.7 370.0,322.4 370.3,316.1 370.6,321.2 371.0,325.4 371.3,322.2 371.6,321.3 372.0,320.5 372.3,325.0 372.6,324.4 373.0,323.7 373.3,323.3 373.6,325.4 374.0,324.2 374.3,320.1 374.6,324.2 374.9,323.0 375.3,322.5 375.6,324.3 375.9,322.9 376.3,317.0 376.6,326.1 376.9,325.1 377.3,322.8 377.6,322.4 377.9,323.7 378.3,320.9 378.6,324.2 378.9,323.2 379.3,323.1 379.6,322.1 379.9,322.7 380.2,326.5 380.6,327.0 380.9,325.5 381.2,324.6 381.6,323.0 381.9,326.4 382.2,328.3 382.6,322.0 382.9,327.7 383.2,321.1 383.6,324.9 383.9,326.5 384.2,323.1 384.6,323.0 384.9,326.5 385.2,328.0 385.6,325.5 385.9,329.2 386.2,325.1 386.5,330.3 386.9,327.2 387.2,327.6 387.5,328.4 387.9,328.0 388.2,331.2 388.5,332.0 388.9,328.9 389.2,327.6 389.5,325.7 389.9,326.7 390.2,328.3 390.5,328.2 390.9,328.5 391.2,328.7 391.5,329.8 391.8,326.3 392.2,327.1 392.5,331.5 392.8,331.1 393.2,328.4 393.5,332.2 393.8,328.4 394.2,329.4 394.5,326.4 394.8,331.9 395.2,330.3 395.5,332.6 395.8,332.0 396.2,330.9 396.5,331.2 396.8,333.4 397.1,330.8 397.5,331.0 397.8,331.6 398.1,333.2 398.5,333.6 398.8,335.7 399.1,331.8 399.5,334.7 399.8,331.0 400.1,333.6 400.5,332.8 400.8,336.2 401.1,334.1 401.5,332.1 401.8,334.3 402.1,334.0 402.5,332.8 402.8,332.9 403.1,331.8 403.4,339.3 403.8,334.2 404.1,336.0 404.4,331.9 404.8,332.2 405.1,334.2 405.4,334.3 405.8,336.4 406.1,332.9 406.4,336.1 406.8,338.2 407.1,333.5 407.4,337.3 407.8,333.7 408.1,336.4 408.4,336.6 408.7,339.5 409.1,334.7 409.4,336.6 409.7,338.5 410.1,334.2 410.4,336.8 410.7,335.2 411.1,335.7 411.4,338.7 411.7,338.9 412.1,342.8 412.4,340.6 412.7,340.6 413.1,337.9 413.4,337.8 413.7,338.9 414.0,334.2 414.4,342.3 414.7,337.8 415.0,337.2 415.4,338.6 415.7,341.5 416.0,342.4 416.4,339.3 416.7,341.1 417.0,340.3 417.4,338.6 417.7,341.1 418.0,341.0 418.4,338.1 418.7,343.5 419.0,338.4 419.4,342.2 419.7,339.8 420.0,340.5 420.3,340.9 420.7,343.9 421.0,340.1 421.3,342.4 421.7,346.1 422.0,341.8 422.3,343.3 422.7,344.9 423.0,342.6 423.3,344.9 423.7,342.8 424.0,345.7 424.3,344.6 424.7,342.8 425.0,347.6 425.3,344.8 425.6,344.6 426.0,343.5 426.3,344.6 426.6,345.6 427.0,346.3 427.3,348.3 427.6,343.7 428.0,345.8 428.3,349.1 428.6,347.2 429.0,347.9 429.3,350.4 429.6,348.1 430.0,348.5 430.3,347.7 430.6,351.5 430.9,350.2 431.3,346.9 431.6,349.6 431.9,346.4 432.3,351.1 432.6,350.4 432.9,348.9 433.3,348.6 433.6,346.0 433.9,351.3 434.3,349.7 434.6,349.5 434.9,351.8 435.3,349.2 435.6,349.5 435.9,349.5 436.3,348.4 436.6,356.1 436.9,351.1 437.2,350.9 437.6,353.6 437.9,345.7 438.2,352.1 438.6,352.4 438.9,350.6 439.2,353.6 439.6,348.8 439.9,352.9 440.2,354.6 440.6,348.5 440.9,350.0 441.2,352.6 441.6,352.9 441.9,351.7 442.2,353.7 442.5,353.5 442.9,350.3 443.2,352.8 443.5,350.5 443.9,348.9 444.2,348.2 444.5,355.1 444.9,352.6 445.2,356.7 445.5,349.7 445.9,351.9 446.2,353.1 446.5,352.1 446.9,353.2 447.2,352.4 447.5,350.8 447.9,347.3 448.2,349.9 448.5,355.2 448.8,353.2 449.2,354.3 449.5,350.3 449.8,350.9 450.2,349.5 450.5,351.9 450.8,351.2 451.2,351.8 451.5,354.4 451.8,349.1 452.2,352.1 452.5,347.7 452.8,352.6 453.2,349.4 453.5,350.1 453.8,350.4 454.1,353.3 454.5,349.8 454.8,348.8 455.1,347.3 455.5,350.0 455.8,347.6 456.1,348.2 456.5,349.0 456.8,350.3 457.1,347.3 457.5,350.0 457.8,352.0 458.1,345.4 458.5,350.9 458.8,352.4 459.1,346.8 459.4,349.0 459.8,344.9 460.1,348.2 460.4,346.7 460.8,347.8 461.1,345.3 461.4,345.3 461.8,345.9 462.1,345.2 462.4,345.3 462.8,346.0 463.1,344.0 463.4,345.8 463.8,346.9 464.1,341.2 464.4,346.0 464.8,344.0 465.1,343.1 465.4,342.5 465.7,343.3 466.1,343.4 466.4,345.4 466.7,342.1 467.1,346.6 467.4,342.7 467.7,345.6 468.1,346.2 468.4,341.5 468.7,345.9 469.1,348.0 469.4,342.7 469.7,344.6 470.1,343.1 470.4,343.4 470.7,342.7 471.0,342.0 471.4,344.3 471.7,344.5 472.0,342.6 472.4,345.5 472.7,344.6 473.0,343.7 473.4,340.7 473.7,345.8 474.0,344.5 474.4,337.5 474.7,339.4 475.0,340.6 475.4,343.3 475.7,343.7 476.0,340.5 476.3,341.5 476.7,342.3 477.0,338.2 477.3,341.8 477.7,339.9 478.0,340.7 478.3,340.1 478.7,337.7 479.0,338.0 479.3,339.9 479.7,340.0 480.0,339.0 480.3,341.6 480.7,338.6 481.0,336.7 481.3,338.4 481.7,338.6 482.0,338.5 482.3,341.0 482.6,339.5 483.0,340.5 483.3,339.5 483.6,337.8 484.0,340.1 484.3,337.3 484.6,338.2 485.0,335.6 485.3,337.7 485.6,336.7 486.0,338.0 486.3,340.7 486.6,341.7 487.0,338.9 487.3,336.6 487.6,338.2 487.9,336.9 488.3,335.1 488.6,336.0 488.9,335.5 489.3,334.7 489.6,338.5 489.9,334.5 490.3,334.5 490.6,336.7 490.9,333.7 491.3,332.6 491.6,333.1 491.9,335.6 492.3,335.2 492.6,334.9 492.9,333.2 493.2,332.1 493.6,335.6 493.9,330.7 494.2,333.0 494.6,330.6 494.9,332.3 495.2,332.6 495.6,335.2 495.9,326.8 496.2,335.1 496.6,330.5 496.9,332.7 497.2,333.5 497.6,330.2 497.9,331.4 498.2,332.4 498.6,331.0 498.9,329.6 499.2,331.3 499.5,331.0 499.9,327.6 500.2,333.1 500.5,330.7 500.9,325.2 501.2,328.2 501.5,333.2 501.9,332.7 502.2,329.9 502.5,325.9 502.9,328.6 503.2,331.0 503.5,329.5 503.9,327.9 504.2,326.9 504.5,329.9 504.8,327.6 505.2,328.6 505.5,328.9 505.8,331.1 506.2,328.1 506.5,328.2 506.8,324.0 507.2,329.7 507.5,329.2 507.8,327.3 508.2,322.7 508.5,326.1 508.8,327.3 509.2,331.2 509.5,328.2 509.8,328.5 510.1,328.5 510.5,329.4 510.8,324.4 511.1,324.9 511.5,324.2 511.8,325.9 512.1,325.7 512.5,326.5 512.8,324.2 513.1,326.3 513.5,324.3 513.8,330.2 514.1,324.8 514.5,330.9 514.8,329.0 515.1,323.3 515.5,327.5 515.8,326.7 516.1,322.4 516.4,326.6 516.8,325.1 517.1,325.9 517.4,323.4 517.8,324.9 518.1,325.8 518.4,324.6 518.8,323.6 519.1,324.4 519.4,322.7 519.8,325.3 520.1,319.4 520.4,327.5 520.8,324.5 521.1,325.3 521.4,325.9 521.7,321.7 522.1,328.6 522.4,321.8 522.7,324.9 523.1,324.5 523.4,326.4 523.7,323.7 524.1,320.8 524.4,324.2 524.7,318.5 525.1,323.0 525.4,322.4 525.7,326.4 526.1,322.6 526.4,322.2 526.7,321.5 527.0,321.2 527.4,321.7 527.7,324.0 528.0,320.1 528.4,322.2 528.7,319.6 529.0,322.1 529.4,322.7 529.7,319.8 530.0,321.1 530.4,322.4 530.7,323.6 531.0,323.9 531.4,321.7 531.7,319.9 532.0,318.6 532.4,323.3 532.7,324.5 533.0,322.4 533.3,324.7 533.7,320.6 534.0,320.7 534.3,324.5 534.7,319.3 535.0,322.5 535.3,322.0 535.7,321.4 536.0,324.5 536.3,319.2 536.7,320.1 537.0,316.7 537.3,318.7 537.7,319.7 538.0,319.9 538.3,320.2 538.6,321.1 539.0,319.1 539.3,316.4 539.6,320.7 540.0,321.1 540.3,317.9 540.6,318.6 541.0,323.6 541.3,322.1 541.6,322.2 542.0,321.3 542.3,320.1 542.6,318.8 543.0,320.9 543.3,319.3 543.6,318.7 543.9,319.5 544.3,319.3 544.6,321.2 544.9,317.4 545.3,324.3 545.6,317.2 545.9,318.3 546.3,321.0 546.6,317.3 546.9,318.0 547.3,318.9 547.6,312.9 547.9,317.7 548.3,316.8 548.6,318.1 548.9,319.6 549.3,319.8 549.6,321.5 549.9,321.3 550.2,320.4 550.6,318.2 550.9,320.3 551.2,316.1 551.6,317.9 551.9,320.9 552.2,319.5 552.6,315.1 552.9,316.6 553.2,319.6 553.6,318.9 553.9,319.8 554.2,314.0 554.6,314.9 554.9,316.9 555.2,315.4 555.5,317.2 555.9,317.3 556.2,317.9 556.5,316.9 556.9,318.2 557.2,318.6 557.5,317.2 557.9,314.4 558.2,319.4 558.5,317.2 558.9,317.5 559.2,317.0 559.5,313.3 559.9,317.7 560.2,315.1 560.5,313.9 560.8,318.9 561.2,315.6 561.5,316.8 561.8,317.9 562.2,319.3 562.5,312.3 562.8,314.4 563.2,317.2 563.5,314.4" fill="none" stroke="#1414ee" stroke-width="0.6" opacity="1.0"/>
<polyline points="315.3,309.6 315.6,308.1 316.0,311.1 316.3,312.9 316.6,314.8 317.0,311.9 317.3,309.9 317.6,309.2 318.0,313.5 318.3,315.9 318.6,312.0 318.9,307.7 319.3,308.4 319.6,315.5 319.9,311.6 320.3,306.1 320.6,310.6 320.9,307.5 321.3,309.0 321.6,309.3 321.9,308.6 322.3,312.1 322.6,310.3 322.9,308.8 323.3,311.5 323.6,312.6 323.9,305.6 324.2,309.4 324.6,307.4 324.9,309.5 325.2,306.4 325.6,310.0 325.9,309.7 326.2,308.9 326.6,306.8 326.9,308.5 327.2,306.5 327.6,305.7 327.9,310.1 328.2,306.3 328.6,312.6 328.9,311.3 329.2,303.6 329.5,309.9 329.9,306.0 330.2,309.1 330.5,309.1 330.9,303.3 331.2,308.2 331.5,308.0 331.9,311.4 332.2,305.3 332.5,310.6 332.9,305.4 333.2,307.5 333.5,306.0 333.9,312.4 334.2,309.8 334.5,315.0 334.9,309.9 335.2,310.4 335.5,310.3 335.8,306.2 336.2,307.7 336.5,311.6 336.8,306.6 337.2,308.2 337.5,307.6 337.8,309.3 338.2,306.5 338.5,307.0 338.8,308.0 339.2,307.6 339.5,304.8 339.8,309.7 340.2,303.5 340.5,303.7 340.8,303.4 341.1,309.6 341.5,305.8 341.8,304.1 342.1,303.5 342.5,307.8 342.8,303.6 343.1,303.0 343.5,308.2 343.8,303.1 344.1,305.4 344.5,306.3 344.8,305.0 345.1,306.0 345.5,309.8 345.8,304.6 346.1,302.4 346.4,300.8 346.8,305.3 347.1,304.8 347.4,306.4 347.8,304.3 348.1,304.2 348.4,303.4 348.8,303.9 349.1,305.7 349.4,304.1 349.8,305.4 350.1,310.4 350.4,306.3 350.8,300.4 351.1,309.6 351.4,305.7 351.8,302.0 352.1,307.1 352.4,304.5 352.7,302.6 353.1,302.5 353.4,301.4 353.7,304.2 354.1,307.0 354.4,303.0 354.7,305.0 355.1,309.0 355.4,300.3 355.7,304.3 356.1,302.6 356.4,300.5 356.7,300.5 357.1,303.2 357.4,304.4 357.7,301.6 358.0,303.1 358.4,304.9 358.7,303.7 359.0,305.2 359.4,303.9 359.7,303.9 360.0,307.6 360.4,304.1 360.7,302.7 361.0,304.2 361.4,299.6 361.7,301.1 362.0,304.2 362.4,303.7 362.7,306.1 363.0,301.7 363.3,297.5 363.7,307.0 364.0,304.5 364.3,298.4 364.7,305.1 365.0,301.3 365.3,296.0 365.7,299.9 366.0,299.5 366.3,305.3 366.7,298.6 367.0,300.0 367.3,299.8 367.7,299.5 368.0,297.9 368.3,301.0 368.7,303.3 369.0,301.9 369.3,297.5 369.6,296.8 370.0,300.3 370.3,297.9 370.6,298.0 371.0,295.0 371.3,305.1 371.6,302.1 372.0,296.7 372.3,301.9 372.6,303.0 373.0,292.5 373.3,297.5 373.6,297.9 374.0,300.7 374.3,298.5 374.6,298.1 374.9,298.5 375.3,303.8 375.6,304.5 375.9,296.9 376.3,295.7 376.6,305.8 376.9,295.4 377.3,296.5 377.6,298.1 377.9,299.3 378.3,300.7 378.6,298.9 378.9,295.3 379.3,299.1 379.6,298.3 379.9,302.8 380.2,297.4 380.6,293.6 380.9,294.4 381.2,301.3 381.6,295.7 381.9,291.2 382.2,295.4 382.6,297.0 382.9,300.2 383.2,294.0 383.6,298.6 383.9,298.9 384.2,294.7 384.6,296.0 384.9,301.4 385.2,301.2 385.6,298.8 385.9,297.2 386.2,299.4 386.5,295.8 386.9,295.8 387.2,293.6 387.5,296.0 387.9,295.6 388.2,303.6 388.5,295.2 388.9,299.2 389.2,299.3 389.5,295.0 389.9,298.7 390.2,289.3 390.5,295.6 390.9,297.7 391.2,288.5 391.5,291.9 391.8,298.0 392.2,294.3 392.5,291.8 392.8,293.8 393.2,293.3 393.5,296.7 393.8,295.9 394.2,293.8 394.5,292.7 394.8,294.3 395.2,298.1 395.5,295.3 395.8,296.0 396.2,293.8 396.5,290.5 396.8,292.0 397.1,295.8 397.5,294.2 397.8,291.3 398.1,289.2 398.5,294.0 398.8,292.7 399.1,292.6 399.5,292.6 399.8,294.2 400.1,294.2 400.5,296.0 400.8,295.8 401.1,296.9 401.5,295.3 401.8,292.1 402.1,292.8 402.5,294.3 402.8,291.9 403.1,294.3 403.4,295.9 403.8,290.4 404.1,287.6 404.4,295.8 404.8,292.4 405.1,294.3 405.4,288.5 405.8,297.0 406.1,294.2 406.4,291.7 406.8,291.0 407.1,292.2 407.4,291.4 407.8,291.0 408.1,288.6 408.4,295.2 408.7,291.5 409.1,291.7 409.4,291.7 409.7,284.8 410.1,292.8 410.4,290.3 410.7,290.3 411.1,291.3 411.4,288.3 411.7,293.3 412.1,288.9 412.4,288.3 412.7,288.3 413.1,291.1 413.4,292.6 413.7,288.8 414.0,286.2 414.4,293.3 414.7,287.3 415.0,293.5 415.4,290.0 415.7,288.1 416.0,288.2 416.4,291.2 416.7,292.3 417.0,289.2 417.4,292.3 417.7,295.4 418.0,288.9 418.4,286.2 418.7,286.4 419.0,285.4 419.4,287.4 419.7,287.1 420.0,285.4 420.3,290.5 420.7,281.6 421.0,285.2 421.3,294.4 421.7,291.6 422.0,290.1 422.3,289.8 422.7,293.5 423.0,289.9 423.3,288.6 423.7,284.8 424.0,288.0 424.3,286.1 424.7,286.1 425.0,286.0 425.3,287.8 425.6,286.9 426.0,290.2 426.3,284.0 426.6,287.1 427.0,292.7 427.3,287.6 427.6,290.7 428.0,290.5 428.3,290.9 428.6,289.2 429.0,283.2 429.3,286.3 429.6,285.9 430.0,282.5 430.3,285.5 430.6,283.2 430.9,282.0 431.3,287.2 431.6,286.4 431.9,284.5 432.3,283.7 432.6,284.8 432.9,285.1 433.3,285.0 433.6,285.9 433.9,284.8 434.3,287.0 434.6,287.3 434.9,286.8 435.3,283.8 435.6,283.9 435.9,286.8 436.3,284.9 436.6,285.3 436.9,278.3 437.2,277.7 437.6,286.1 437.9,286.0 438.2,288.9 438.6,287.0 438.9,285.5 439.2,284.8 439.6,280.8 439.9,287.3 440.2,283.2 440.6,286.4 440.9,285.6 441.2,285.9 441.6,287.7 441.9,283.9 442.2,284.3 442.5,283.0 442.9,284.4 443.2,290.2 443.5,284.6 443.9,289.0 444.2,288.1 444.5,287.9 444.9,288.2 445.2,283.2 445.5,287.1 445.9,290.6 446.2,284.3 446.5,286.2 446.9,284.4 447.2,287.3 447.5,283.5 447.9,291.1 448.2,285.6 448.5,282.4 448.8,291.8 449.2,289.6 449.5,288.4 449.8,288.5 450.2,286.1 450.5,286.5 450.8,289.2 451.2,289.8 451.5,290.0 451.8,288.0 452.2,286.2 452.5,287.0 452.8,290.7 453.2,291.7 453.5,286.8 453.8,286.5 454.1,291.4 454.5,290.0 454.8,290.0 455.1,284.5 455.5,287.2 455.8,286.8 456.1,288.9 456.5,283.7 456.8,292.0 457.1,289.4 457.5,289.8 457.8,285.4 458.1,288.7 458.5,292.6 458.8,284.5 459.1,289.8 459.4,291.0 459.8,287.2 460.1,291.5 460.4,288.3 460.8,292.8 461.1,290.9 461.4,290.1 461.8,295.2 462.1,291.9 462.4,293.4 462.8,286.4 463.1,288.0 463.4,292.2 463.8,292.5 464.1,289.9 464.4,292.3 464.8,287.2 465.1,290.9 465.4,287.1 465.7,291.4 466.1,289.1 466.4,288.7 466.7,290.8 467.1,295.8 467.4,287.9 467.7,289.1 468.1,293.9 468.4,289.8 468.7,296.0 469.1,291.7 469.4,291.4 469.7,292.3 470.1,296.2 470.4,293.2 470.7,292.9 471.0,292.3 471.4,287.3 471.7,289.2 472.0,296.0 472.4,294.2 472.7,293.4 473.0,293.8 473.4,290.6 473.7,293.2 474.0,289.8 474.4,293.5 474.7,290.4 475.0,291.9 475.4,293.9 475.7,291.8 476.0,294.6 476.3,294.1 476.7,293.9 477.0,296.7 477.3,289.0 477.7,288.7 478.0,295.0 478.3,296.0 478.7,299.1 479.0,295.6 479.3,295.9 479.7,291.2 480.0,295.9 480.3,295.7 480.7,291.0 481.0,291.5 481.3,293.8 481.7,295.0 482.0,286.0 482.3,294.5 482.6,295.0 483.0,294.0 483.3,295.3 483.6,295.9 484.0,291.9 484.3,296.0 484.6,294.2 485.0,292.3 485.3,295.6 485.6,299.3 486.0,291.1 486.3,290.7 486.6,290.7 487.0,301.0 487.3,294.8 487.6,295.5 487.9,293.5 488.3,293.1 488.6,290.2 488.9,296.4 489.3,296.8 489.6,290.6 489.9,293.3 490.3,294.2 490.6,296.3 490.9,297.1 491.3,299.7 491.6,300.4 491.9,299.7 492.3,300.5 492.6,293.6 492.9,295.4 493.2,300.2 493.6,297.9 493.9,297.2 494.2,291.7 494.6,292.1 494.9,299.5 495.2,298.4 495.6,296.7 495.9,296.5 496.2,292.8 496.6,298.8 496.9,300.7 497.2,302.5 497.6,298.1 497.9,297.4 498.2,295.0 498.6,301.5 498.9,302.9 499.2,296.5 499.5,299.1 499.9,298.6 500.2,296.8 500.5,291.5 500.9,297.5 501.2,300.3 501.5,294.6 501.9,296.4 502.2,289.6 502.5,302.4 502.9,300.3 503.2,299.1 503.5,298.2 503.9,297.3 504.2,298.9 504.5,298.3 504.8,298.6 505.2,299.2 505.5,299.8 505.8,303.8 506.2,295.5 506.5,300.4 506.8,298.0 507.2,296.6 507.5,293.2 507.8,301.6 508.2,297.3 508.5,298.0 508.8,301.5 509.2,297.2 509.5,300.4 509.8,300.2 510.1,302.7 510.5,303.4 510.8,298.2 511.1,303.3 511.5,300.5 511.8,301.2 512.1,300.3 512.5,303.2 512.8,297.7 513.1,301.9 513.5,304.5 513.8,300.5 514.1,307.1 514.5,299.4 514.8,302.2 515.1,300.3 515.5,300.0 515.8,298.7 516.1,300.4 516.4,301.8 516.8,299.8 517.1,304.6 517.4,306.4 517.8,298.0 518.1,304.7 518.4,302.9 518.8,303.2 519.1,309.5 519.4,306.0 519.8,303.7 520.1,303.3 520.4,296.9 520.8,305.2 521.1,301.0 521.4,303.6 521.7,303.5 522.1,306.0 522.4,309.1 522.7,306.2 523.1,307.1 523.4,303.0 523.7,305.0 524.1,305.9 524.4,299.8 524.7,309.7 525.1,302.0 525.4,300.5 525.7,308.7 526.1,310.2 526.4,302.4 526.7,302.7 527.0,313.2 527.4,304.9 527.7,299.1 528.0,303.0 528.4,310.4 528.7,306.7 529.0,307.1 529.4,308.5 529.7,307.0 530.0,304.3 530.4,300.8 530.7,306.6 531.0,302.2 531.4,305.3 531.7,310.4 532.0,307.0 532.4,305.7 532.7,305.8 533.0,307.7 533.3,308.3 533.7,302.1 534.0,306.4 534.3,310.7 534.7,308.1 535.0,303.9 535.3,304.1 535.7,300.3 536.0,303.9 536.3,310.7 536.7,306.1 537.0,303.9 537.3,304.8 537.7,306.1 538.0,306.2 538.3,305.5 538.6,304.4 539.0,308.4 539.3,311.0 539.6,305.1 540.0,305.3 540.3,310.2 540.6,302.8 541.0,305.3 541.3,305.9 541.6,307.5 542.0,306.3 542.3,304.7 542.6,308.1 543.0,303.9 543.3,302.4 543.6,301.7 543.9,309.5 544.3,302.6 544.6,308.8 544.9,309.5 545.3,309.9 545.6,307.2 545.9,306.2 546.3,308.0 546.6,306.2 546.9,304.3 547.3,311.5 547.6,305.5 547.9,313.1 548.3,309.6 548.6,306.9 548.9,309.4 549.3,311.7 549.6,304.5 549.9,305.8 550.2,305.5 550.6,308.9 550.9,309.7 551.2,308.7 551.6,306.6 551.9,307.2 552.2,312.1 552.6,311.9 552.9,309.2 553.2,305.2 553.6,310.7 553.9,309.8 554.2,309.8 554.6,314.0 554.9,311.5 555.2,306.5 555.5,306.6 555.9,313.2 556.2,310.0 556.5,311.9 556.9,309.2 557.2,306.9 557.5,310.5 557.9,314.2 558.2,310.8 558.5,306.8 558.9,309.1 559.2,308.7 559.5,310.6 559.9,313.0 560.2,315.8 560.5,311.0 560.8,309.2 561.2,310.7 561.5,310.5 561.8,309.4 562.2,310.7 562.5,310.7 562.8,307.4 563.2,312.3 563.5,309.8" fill="none" stroke="#ee1c0e" stroke-width="0.6" opacity="0.95"/>
<polyline points="315.3,316.6 315.6,318.5 316.0,307.9 316.3,314.0 316.6,317.0 317.0,318.0 317.3,316.4 317.6,318.6 318.0,315.7 318.3,316.5 318.6,315.7 318.9,312.7 319.3,313.4 319.6,316.6 319.9,314.3 320.3,319.1 320.6,319.2 320.9,320.6 321.3,316.2 321.6,319.8 321.9,314.2 322.3,314.6 322.6,317.0 322.9,317.6 323.3,313.0 323.6,312.8 323.9,318.1 324.2,315.2 324.6,320.5 324.9,318.9 325.2,319.0 325.6,319.2 325.9,321.3 326.2,319.0 326.6,322.5 326.9,318.9 327.2,320.0 327.6,319.3 327.9,322.8 328.2,321.8 328.6,320.0 328.9,327.5 329.2,322.0 329.5,323.0 329.9,324.7 330.2,328.4 330.5,324.1 330.9,326.6 331.2,325.5 331.5,321.9 331.9,328.0 332.2,328.9 332.5,326.2 332.9,327.1 333.2,323.8 333.5,324.2 333.9,327.4 334.2,330.4 334.5,328.1 334.9,330.4 335.2,332.5 335.5,330.7 335.8,332.3 336.2,334.9 336.5,328.6 336.8,334.0 337.2,327.8 337.5,334.1 337.8,333.9 338.2,332.4 338.5,331.5 338.8,334.5 339.2,334.0 339.5,335.7 339.8,333.6 340.2,337.7 340.5,334.1 340.8,336.4 341.1,336.6 341.5,341.1 341.8,334.6 342.1,337.7 342.5,342.1 342.8,337.9 343.1,336.8 343.5,341.0 343.8,339.9 344.1,343.1 344.5,339.1 344.8,342.2 345.1,343.8 345.5,345.1 345.8,340.1 346.1,346.8 346.4,341.3 346.8,340.2 347.1,341.9 347.4,345.1 347.8,344.3 348.1,346.5 348.4,347.0 348.8,347.0 349.1,345.9 349.4,351.5 349.8,341.7 350.1,343.3 350.4,346.8 350.8,345.2 351.1,342.2 351.4,346.8 351.8,347.2 352.1,343.2 352.4,351.7 352.7,353.0 353.1,353.1 353.4,349.0 353.7,350.8 354.1,347.9 354.4,351.4 354.7,349.5 355.1,352.4 355.4,350.8 355.7,354.5 356.1,354.2 356.4,355.4 356.7,348.6 357.1,348.3 357.4,354.1 357.7,351.8 358.0,354.5 358.4,354.5 358.7,354.4 359.0,356.5 359.4,355.8 359.7,355.9 360.0,352.7 360.4,359.4 360.7,355.5 361.0,358.0 361.4,356.2 361.7,358.6 362.0,355.9 362.4,356.2 362.7,356.0 363.0,354.0 363.3,354.4 363.7,355.6 364.0,355.8 364.3,353.7 364.7,362.1 365.0,353.9 365.3,355.6 365.7,362.6 366.0,354.9 366.3,358.6 366.7,358.4 367.0,356.3 367.3,353.4 367.7,353.1 368.0,357.1 368.3,358.2 368.7,351.9 369.0,357.8 369.3,355.8 369.6,359.8 370.0,358.1 370.3,355.7 370.6,356.8 371.0,358.0 371.3,361.4 371.6,365.7 372.0,359.1 372.3,358.6 372.6,360.1 373.0,358.5 373.3,360.3 373.6,359.8 374.0,358.9 374.3,357.0 374.6,359.5 374.9,361.4 375.3,359.5 375.6,363.1 375.9,361.8 376.3,359.2 376.6,364.0 376.9,356.9 377.3,362.7 377.6,364.6 377.9,359.4 378.3,359.8 378.6,362.5 378.9,363.9 379.3,361.5 379.6,361.1 379.9,362.8 380.2,361.2 380.6,357.6 380.9,360.1 381.2,360.6 381.6,356.9 381.9,361.7 382.2,358.8 382.6,362.6 382.9,357.0 383.2,358.5 383.6,357.1 383.9,364.0 384.2,364.0 384.6,364.5 384.9,364.5 385.2,363.1 385.6,363.1 385.9,356.7 386.2,361.7 386.5,359.7 386.9,360.2 387.2,357.9 387.5,364.3 387.9,361.4 388.2,357.3 388.5,362.3 388.9,360.9 389.2,358.4 389.5,360.3 389.9,359.1 390.2,355.3 390.5,357.2 390.9,362.3 391.2,361.9 391.5,361.7 391.8,358.0 392.2,359.5 392.5,361.2 392.8,362.7 393.2,358.9 393.5,358.4 393.8,363.9 394.2,361.3 394.5,360.2 394.8,359.3 395.2,359.5 395.5,365.1 395.8,363.6 396.2,360.2 396.5,358.1 396.8,365.4 397.1,365.2 397.5,364.3 397.8,363.4 398.1,356.6 398.5,358.1 398.8,362.8 399.1,360.7 399.5,362.1 399.8,360.1 400.1,359.8 400.5,362.9 400.8,360.5 401.1,361.5 401.5,362.2 401.8,362.1 402.1,364.5 402.5,365.0 402.8,358.2 403.1,361.0 403.4,360.0 403.8,363.6 404.1,359.0 404.4,363.6 404.8,363.5 405.1,363.2 405.4,359.3 405.8,361.2 406.1,359.1 406.4,362.8 406.8,364.2 407.1,358.1 407.4,359.8 407.8,361.5 408.1,360.6 408.4,365.7 408.7,361.6 409.1,362.6 409.4,359.2 409.7,365.9 410.1,362.4 410.4,363.9 410.7,362.1 411.1,356.6 411.4,357.8 411.7,358.6 412.1,362.9 412.4,360.5 412.7,362.8 413.1,362.4 413.4,362.2 413.7,363.9 414.0,362.0 414.4,357.4 414.7,359.8 415.0,365.6 415.4,358.7 415.7,364.8 416.0,365.5 416.4,359.8 416.7,362.1 417.0,357.7 417.4,363.1 417.7,359.2 418.0,357.9 418.4,360.1 418.7,359.9 419.0,359.6 419.4,361.5 419.7,360.6 420.0,359.3 420.3,363.3 420.7,366.9 421.0,361.0 421.3,359.0 421.7,358.3 422.0,362.2 422.3,360.1 422.7,360.7 423.0,355.6 423.3,357.8 423.7,357.7 424.0,362.9 424.3,359.8 424.7,354.2 425.0,361.6 425.3,363.2 425.6,363.6 426.0,353.3 426.3,360.7 426.6,362.3 427.0,361.7 427.3,359.6 427.6,355.6 428.0,359.0 428.3,359.3 428.6,361.5 429.0,361.6 429.3,359.4 429.6,362.1 430.0,357.3 430.3,358.2 430.6,359.8 430.9,361.2 431.3,359.0 431.6,362.8 431.9,360.7 432.3,357.3 432.6,359.8 432.9,357.4 433.3,357.2 433.6,356.0 433.9,363.0 434.3,361.7 434.6,355.4 434.9,362.2 435.3,361.8 435.6,358.4 435.9,360.6 436.3,364.9 436.6,359.9 436.9,360.2 437.2,362.0 437.6,356.5 437.9,355.9 438.2,355.5 438.6,358.8 438.9,361.2 439.2,356.8 439.6,355.5 439.9,359.5 440.2,358.1 440.6,360.6 440.9,358.8 441.2,358.7 441.6,359.0 441.9,359.4 442.2,356.9 442.5,356.6 442.9,363.4 443.2,367.2 443.5,362.3 443.9,355.4 444.2,359.6 444.5,362.6 444.9,355.6 445.2,358.5 445.5,358.7 445.9,357.5 446.2,357.7 446.5,362.4 446.9,358.7 447.2,359.3 447.5,364.2 447.9,357.8 448.2,355.2 448.5,361.7 448.8,365.1 449.2,360.6 449.5,360.9 449.8,357.0 450.2,357.9 450.5,363.9 450.8,363.4 451.2,361.8 451.5,358.7 451.8,357.4 452.2,357.8 452.5,357.5 452.8,362.0 453.2,358.5 453.5,359.3 453.8,362.3 454.1,362.3 454.5,360.7 454.8,361.8 455.1,360.7 455.5,355.8 455.8,360.5 456.1,359.7 456.5,359.9 456.8,361.4 457.1,359.4 457.5,363.9 457.8,360.5 458.1,361.4 458.5,361.8 458.8,360.6 459.1,362.7 459.4,363.0 459.8,362.7 460.1,359.4 460.4,358.9 460.8,359.7 461.1,361.2 461.4,356.6 461.8,359.2 462.1,358.4 462.4,359.7 462.8,359.1 463.1,363.4 463.4,362.6 463.8,363.9 464.1,359.0 464.4,359.6 464.8,360.8 465.1,365.8 465.4,365.9 465.7,360.2 466.1,363.3 466.4,367.2 466.7,359.2 467.1,361.4 467.4,365.2 467.7,363.8 468.1,359.5 468.4,365.8 468.7,364.5 469.1,363.8 469.4,359.0 469.7,361.8 470.1,365.5 470.4,363.5 470.7,364.3 471.0,361.6 471.4,366.1 471.7,361.7 472.0,364.7 472.4,363.2 472.7,360.0 473.0,366.1 473.4,359.3 473.7,360.6 474.0,362.8 474.4,359.0 474.7,358.0 475.0,362.2 475.4,361.5 475.7,361.9 476.0,363.8 476.3,368.3 476.7,361.6 477.0,368.8 477.3,363.3 477.7,362.4 478.0,355.9 478.3,358.9 478.7,363.4 479.0,364.1 479.3,360.7 479.7,363.5 480.0,365.0 480.3,361.4 480.7,358.8 481.0,360.4 481.3,362.1 481.7,363.6 482.0,364.8 482.3,360.6 482.6,363.0 483.0,362.3 483.3,363.1 483.6,365.8 484.0,366.3 484.3,361.8 484.6,361.5 485.0,361.4 485.3,361.8 485.6,362.1 486.0,362.7 486.3,361.9 486.6,360.5 487.0,360.3 487.3,363.4 487.6,369.4 487.9,364.7 488.3,364.9 488.6,364.2 488.9,362.9 489.3,368.4 489.6,362.6 489.9,361.0 490.3,360.3 490.6,363.9 490.9,361.0 491.3,361.3 491.6,361.3 491.9,360.3 492.3,364.0 492.6,359.4 492.9,369.3 493.2,356.7 493.6,360.2 493.9,363.8 494.2,364.7 494.6,362.9 494.9,364.5 495.2,364.2 495.6,364.1 495.9,365.3 496.2,364.5 496.6,363.6 496.9,363.6 497.2,366.2 497.6,363.5 497.9,365.4 498.2,368.0 498.6,365.0 498.9,367.1 499.2,363.0 499.5,364.8 499.9,365.4 500.2,364.8 500.5,365.4 500.9,367.7 501.2,363.5 501.5,362.6 501.9,365.1 502.2,360.6 502.5,364.2 502.9,367.2 503.2,364.1 503.5,365.5 503.9,365.1 504.2,367.1 504.5,365.4 504.8,364.6 505.2,355.8 505.5,362.8 505.8,365.8 506.2,363.7 506.5,362.1 506.8,366.3 507.2,361.8 507.5,363.1 507.8,365.6 508.2,362.6 508.5,364.3 508.8,363.8 509.2,360.8 509.5,362.5 509.8,362.9 510.1,362.2 510.5,366.5 510.8,363.7 511.1,362.1 511.5,360.2 511.8,362.9 512.1,366.9 512.5,362.9 512.8,365.5 513.1,364.7 513.5,362.3 513.8,361.2 514.1,364.9 514.5,359.4 514.8,365.0 515.1,360.6 515.5,365.7 515.8,362.5 516.1,363.3 516.4,366.1 516.8,361.0 517.1,363.6 517.4,362.7 517.8,364.7 518.1,365.3 518.4,364.2 518.8,364.0 519.1,362.4 519.4,364.9 519.8,362.8 520.1,363.7 520.4,363.9 520.8,360.0 521.1,360.5 521.4,363.9 521.7,363.3 522.1,366.5 522.4,357.3 522.7,363.8 523.1,366.0 523.4,363.5 523.7,365.2 524.1,363.3 524.4,363.1 524.7,365.5 525.1,360.0 525.4,357.7 525.7,364.4 526.1,363.5 526.4,363.5 526.7,363.9 527.0,364.7 527.4,362.0 527.7,364.3 528.0,363.9 528.4,360.3 528.7,362.7 529.0,363.8 529.4,361.1 529.7,365.7 530.0,362.3 530.4,365.1 530.7,366.6 531.0,359.3 531.4,359.6 531.7,364.4 532.0,362.4 532.4,364.1 532.7,367.1 533.0,361.5 533.3,364.8 533.7,362.0 534.0,361.0 534.3,363.7 534.7,363.2 535.0,365.2 535.3,363.2 535.7,364.6 536.0,363.7 536.3,358.1 536.7,361.4 537.0,361.4 537.3,364.4 537.7,359.5 538.0,362.6 538.3,361.0 538.6,357.5 539.0,361.6 539.3,363.5 539.6,361.0 540.0,364.2 540.3,362.8 540.6,362.5 541.0,360.4 541.3,361.3 541.6,362.8 542.0,361.6 542.3,358.5 542.6,361.1 543.0,362.4 543.3,364.2 543.6,363.5 543.9,358.9 544.3,363.0 544.6,357.2 544.9,359.6 545.3,359.1 545.6,364.7 545.9,362.5 546.3,361.3 546.6,358.9 546.9,363.3 547.3,359.5 547.6,361.1 547.9,362.5 548.3,358.8 548.6,360.7 548.9,354.2 549.3,360.5 549.6,354.6 549.9,359.7 550.2,359.2 550.6,359.5 550.9,363.9 551.2,351.7 551.6,358.9 551.9,356.6 552.2,359.3 552.6,358.0 552.9,357.3 553.2,355.6 553.6,354.9 553.9,357.4 554.2,352.6 554.6,358.9 554.9,354.6 555.2,357.0 555.5,352.7 555.9,356.6 556.2,354.7 556.5,357.0 556.9,358.0 557.2,353.4 557.5,354.8 557.9,355.0 558.2,357.8 558.5,350.8 558.9,355.3 559.2,353.6 559.5,350.5 559.9,352.5 560.2,351.4 560.5,355.7 560.8,350.4 561.2,355.1 561.5,351.2 561.8,353.9 562.2,347.7 562.5,349.9 562.8,352.0 563.2,349.2 563.5,347.4" fill="none" stroke="#000" stroke-width="0.6" opacity="1.0"/>
<line x1="166.20" y1="200" x2="166.20" y2="388" stroke="#efb022" stroke-width="2.0"/>
<polyline points="166.21,200.0 166.68,201.0 166.63,202.0 166.02,203.0 166.10,204.0 166.02,205.0 166.40,206.0 166.18,207.0 166.46,208.0 165.55,209.0 166.75,210.0 166.17,211.0 166.44,212.0 166.15,213.0 166.07,214.0 166.36,215.0 166.49,216.0 166.13,217.0 166.15,218.0 166.44,219.0 165.90,220.0 165.67,221.0 166.34,222.0 165.97,223.0 165.53,224.0 165.92,225.0 166.04,226.0 165.78,227.0 165.68,228.0 166.21,229.0 166.51,230.0 166.12,231.0 165.94,232.0 166.33,233.0 166.45,234.0 166.09,235.0 166.39,236.0 166.57,237.0 166.13,238.0 165.92,239.0 166.32,240.0 166.29,241.0 166.58,242.0 165.75,243.0 165.97,244.0 165.91,245.0 165.59,246.0 166.24,247.0 166.38,248.0 165.94,249.0 166.68,250.0 166.49,251.0 166.42,252.0 166.34,253.0 166.53,254.0 165.73,255.0 166.41,256.0 166.41,257.0 165.58,258.0 166.32,259.0 166.11,260.0 166.47,261.0 166.05,262.0 166.19,263.0 166.32,264.0 165.89,265.0 166.41,266.0 166.16,267.0 166.37,268.0 166.02,269.0 166.58,270.0 166.41,271.0 166.14,272.0 166.42,273.0 166.64,274.0 166.83,275.0 165.65,276.0 166.51,277.0 166.36,278.0 166.17,279.0 165.85,280.0 166.64,281.0 165.76,282.0 166.40,283.0 166.66,284.0 165.64,285.0 166.09,286.0 165.74,287.0 166.29,288.0 166.73,289.0 166.91,290.0 165.58,291.0 166.00,292.0 166.45,293.0 166.75,294.0 166.35,295.0 165.94,296.0 166.30,297.0 166.19,298.0 166.13,299.0 165.94,300.0 166.34,301.0 166.31,302.0 166.17,303.0 166.12,304.0 165.75,305.0 166.03,306.0 166.62,307.0 166.13,308.0 165.70,309.0 166.67,310.0 166.39,311.0 166.94,312.0 166.22,313.0 166.04,314.0 165.69,315.0 166.66,316.0 167.10,317.0 165.91,318.0 165.97,319.0 166.41,320.0 165.91,321.0 166.11,322.0 166.08,323.0 166.27,324.0 166.58,325.0 166.21,326.0 166.52,327.0 166.05,328.0 166.31,329.0 165.45,330.0 165.69,331.0 166.48,332.0 165.99,333.0 166.40,334.0 166.39,335.0 166.66,336.0 166.48,337.0 166.56,338.0 166.16,339.0 165.96,340.0 165.94,341.0 166.03,342.0 165.80,343.0 166.01,344.0 166.17,345.0 166.29,346.0 166.08,347.0 165.53,348.0 166.17,349.0 166.28,350.0 166.58,351.0 166.40,352.0 165.97,353.0 165.95,354.0 166.90,355.0 166.46,356.0 166.84,357.0 166.95,358.0 165.91,359.0 166.33,360.0 166.36,361.0 166.40,362.0 166.39,363.0 166.27,364.0 166.26,365.0 165.67,366.0 166.14,367.0 165.94,368.0 166.24,369.0 166.04,370.0 166.42,371.0 166.49,372.0 166.31,373.0 166.31,374.0 166.23,375.0 166.04,376.0 166.14,377.0 166.03,378.0 166.34,379.0 166.20,380.0 166.40,381.0 165.73,382.0 166.51,383.0 165.93,384.0 165.94,385.0 166.13,386.0 166.00,387.0 166.30,388.0" fill="none" stroke="#efb022" stroke-width="1.4" opacity="0.8"/>
<line x1="439.95" y1="200" x2="439.95" y2="388" stroke="#efb022" stroke-width="2.0"/>
<polyline points="439.75,200.0 439.58,201.0 439.65,202.0 440.41,203.0 439.97,204.0 439.54,205.0 439.95,206.0 439.41,207.0 440.58,208.0 439.42,209.0 440.12,210.0 440.14,211.0 439.44,212.0 440.06,213.0 440.30,214.0 440.11,215.0 440.04,216.0 440.28,217.0 440.01,218.0 440.07,219.0 439.91,220.0 440.17,221.0 439.62,222.0 440.23,223.0 439.77,224.0 439.57,225.0 440.08,226.0 440.54,227.0 440.29,228.0 439.77,229.0 440.19,230.0 439.79,231.0 439.91,232.0 439.98,233.0 439.14,234.0 440.02,235.0 439.59,236.0 439.71,237.0 439.43,238.0 439.42,239.0 439.62,240.0 440.24,241.0 440.53,242.0 439.94,243.0 440.33,244.0 439.86,245.0 439.28,246.0 440.00,247.0 440.11,248.0 439.80,249.0 440.06,250.0 440.15,251.0 439.65,252.0 439.43,253.0 439.87,254.0 439.88,255.0 439.83,256.0 440.30,257.0 440.55,258.0 439.80,259.0 440.19,260.0 440.28,261.0 440.20,262.0 440.32,263.0 439.81,264.0 440.21,265.0 440.66,266.0 440.23,267.0 439.73,268.0 440.16,269.0 440.39,270.0 440.08,271.0 439.75,272.0 440.49,273.0 439.51,274.0 440.13,275.0 439.94,276.0 439.53,277.0 440.38,278.0 440.07,279.0 439.54,280.0 440.16,281.0 439.80,282.0 439.28,283.0 439.71,284.0 440.04,285.0 440.17,286.0 440.01,287.0 439.97,288.0 440.11,289.0 439.88,290.0 440.36,291.0 440.00,292.0 440.05,293.0 440.14,294.0 439.58,295.0 439.70,296.0 440.49,297.0 440.07,298.0 439.85,299.0 440.07,300.0 439.78,301.0 440.05,302.0 439.72,303.0 440.05,304.0 439.40,305.0 440.42,306.0 439.77,307.0 439.40,308.0 439.87,309.0 439.82,310.0 440.00,311.0 439.55,312.0 440.09,313.0 441.22,314.0 439.50,315.0 440.07,316.0 439.84,317.0 440.02,318.0 439.32,319.0 439.55,320.0 440.11,321.0 439.94,322.0 440.52,323.0 439.70,324.0 440.01,325.0 440.97,326.0 439.68,327.0 439.63,328.0 439.94,329.0 439.93,330.0 440.25,331.0 440.00,332.0 439.69,333.0 440.02,334.0 440.87,335.0 440.40,336.0 438.98,337.0 439.90,338.0 439.64,339.0 440.17,340.0 439.89,341.0 440.63,342.0 440.28,343.0 440.26,344.0 440.02,345.0 439.94,346.0 440.07,347.0 440.40,348.0 440.14,349.0 439.83,350.0 440.40,351.0 440.02,352.0 439.92,353.0 439.67,354.0 439.75,355.0 439.73,356.0 438.97,357.0 440.31,358.0 440.15,359.0 439.88,360.0 440.32,361.0 440.10,362.0 440.08,363.0 439.08,364.0 439.87,365.0 440.14,366.0 440.51,367.0 440.59,368.0 440.45,369.0 439.54,370.0 439.18,371.0 440.15,372.0 439.96,373.0 440.29,374.0 439.91,375.0 440.03,376.0 439.43,377.0 440.11,378.0 439.79,379.0 440.07,380.0 440.11,381.0 439.91,382.0 440.06,383.0 439.95,384.0 440.22,385.0 440.13,386.0 439.76,387.0 439.74,388.0" fill="none" stroke="#efb022" stroke-width="1.4" opacity="0.8"/>
<rect x="41.5" y="210.6" width="249.90" height="177.10" fill="none" stroke="#666" stroke-width="1.2"/>
<path d="M103.97 387.70v-3M103.97 210.60v3M166.45 387.70v-3M166.45 210.60v3M228.93 387.70v-3M228.93 210.60v3M41.50 376.63h3M291.40 376.63h-3M41.50 321.29h3M291.40 321.29h-3M41.50 265.94h3M291.40 265.94h-3" stroke="#666" stroke-width="1" fill="none"/>
<rect x="315.3" y="210.6" width="248.20" height="177.10" fill="none" stroke="#666" stroke-width="1.2"/>
<path d="M377.35 387.70v-3M377.35 210.60v3M439.40 387.70v-3M439.40 210.60v3M501.45 387.70v-3M501.45 210.60v3M315.30 376.63h3M563.50 376.63h-3M315.30 321.29h3M563.50 321.29h-3M315.30 265.94h3M563.50 265.94h-3" stroke="#666" stroke-width="1" fill="none"/>
<rect x="40.6" y="4.6" width="250.80" height="173.70" fill="none" stroke="#666" stroke-width="1.2"/>
<path d="M103.30 178.30v-3M103.30 4.60v3M166.00 178.30v-3M166.00 4.60v3M228.70 178.30v-3M228.70 4.60v3M40.60 174.06h3M291.40 174.06h-3M40.60 131.70h3M291.40 131.70h-3M40.60 89.33h3M291.40 89.33h-3M40.60 46.97h3M291.40 46.97h-3" stroke="#666" stroke-width="1" fill="none"/>
<rect x="314.3" y="4.6" width="250.10" height="173.70" fill="none" stroke="#666" stroke-width="1.2"/>
<path d="M376.82 178.30v-3M376.82 4.60v3M439.35 178.30v-3M439.35 4.60v3M501.88 178.30v-3M501.88 4.60v3M314.30 174.06h3M564.40 174.06h-3M314.30 131.70h3M564.40 131.70h-3M314.30 89.33h3M564.40 89.33h-3M314.30 46.97h3M564.40 46.97h-3" stroke="#666" stroke-width="1" fill="none"/>
<line x1="166.20" y1="3.2" x2="166.20" y2="205" stroke="#efb022" stroke-width="2.0"/>
<polyline points="166.81,3.2 166.16,4.2 166.55,5.2 166.34,6.2 166.00,7.2 165.94,8.2 166.24,9.2 166.29,10.2 166.42,11.2 165.76,12.2 165.99,13.2 166.17,14.2 166.76,15.2 165.37,16.2 166.35,17.2 166.01,18.2 166.35,19.2 166.03,20.2 166.33,21.2 166.75,22.2 166.32,23.2 166.35,24.2 166.33,25.2 165.94,26.2 166.39,27.2 166.13,28.2 165.92,29.2 166.19,30.2 166.12,31.2 166.46,32.2 166.19,33.2 166.01,34.2 166.71,35.2 166.55,36.2 166.64,37.2 166.41,38.2 166.16,39.2 166.05,40.2 166.10,41.2 166.53,42.2 166.24,43.2 165.68,44.2 166.19,45.2 165.70,46.2 166.26,47.2 165.78,48.2 165.76,49.2 166.24,50.2 166.17,51.2 165.62,52.2 166.46,53.2 166.96,54.2 165.68,55.2 166.84,56.2 165.96,57.2 166.03,58.2 166.14,59.2 165.69,60.2 166.65,61.2 166.37,62.2 165.94,63.2 166.10,64.2 165.67,65.2 166.08,66.2 166.53,67.2 165.60,68.2 166.05,69.2 166.25,70.2 166.57,71.2 166.67,72.2 166.04,73.2 165.94,74.2 166.36,75.2 166.07,76.2 166.09,77.2 166.58,78.2 166.79,79.2 166.29,80.2 166.13,81.2 166.40,82.2 165.54,83.2 166.19,84.2 165.83,85.2 167.04,86.2 166.45,87.2 166.25,88.2 166.13,89.2 165.32,90.2 166.45,91.2 166.77,92.2 165.94,93.2 166.44,94.2 166.45,95.2 165.66,96.2 166.53,97.2 166.67,98.2 166.28,99.2 166.18,100.2 166.48,101.2 165.66,102.2 166.23,103.2 166.57,104.2 165.77,105.2 166.55,106.2 166.05,107.2 165.47,108.2 166.16,109.2 165.86,110.2 166.31,111.2 165.79,112.2 166.57,113.2 165.94,114.2 166.32,115.2 165.99,116.2 166.09,117.2 166.62,118.2 166.28,119.2 166.06,120.2 165.76,121.2 166.61,122.2 166.46,123.2 166.09,124.2 166.29,125.2 165.84,126.2 165.84,127.2 165.91,128.2 166.32,129.2 166.30,130.2 165.94,131.2 166.46,132.2 166.47,133.2 166.26,134.2 166.56,135.2 166.10,136.2 166.16,137.2 166.37,138.2 166.19,139.2 166.48,140.2 165.76,141.2 166.70,142.2 165.93,143.2 166.14,144.2 165.72,145.2 166.41,146.2 166.65,147.2 166.57,148.2 166.49,149.2 165.65,150.2 165.93,151.2 166.04,152.2 165.87,153.2 166.59,154.2 166.26,155.2 166.19,156.2 166.37,157.2 165.87,158.2 165.88,159.2 165.89,160.2 166.37,161.2 166.32,162.2 166.40,163.2 166.58,164.2 165.72,165.2 166.00,166.2 166.25,167.2 165.73,168.2 166.01,169.2 166.55,170.2 166.59,171.2 166.58,172.2 166.22,173.2 166.13,174.2 166.58,175.2 166.07,176.2 166.32,177.2 166.66,178.2 166.07,179.2 165.99,180.2 166.20,181.2 166.41,182.2 166.37,183.2 166.25,184.2 166.39,185.2 165.64,186.2 165.90,187.2 166.26,188.2 165.87,189.2 165.73,190.2 165.78,191.2 165.88,192.2 166.14,193.2 165.84,194.2 166.28,195.2 166.79,196.2 166.15,197.2 166.65,198.2 166.30,199.2 165.81,200.2 166.11,201.2 165.86,202.2 166.47,203.2 165.80,204.2" fill="none" stroke="#efb022" stroke-width="1.4" opacity="0.8"/>
<line x1="439.95" y1="3.2" x2="439.95" y2="205" stroke="#efb022" stroke-width="2.0"/>
<polyline points="440.41,3.2 440.15,4.2 439.24,5.2 440.22,6.2 440.49,7.2 439.67,8.2 440.29,9.2 439.32,10.2 440.04,11.2 439.37,12.2 440.12,13.2 439.32,14.2 439.03,15.2 440.09,16.2 440.75,17.2 439.74,18.2 440.24,19.2 439.99,20.2 439.84,21.2 440.17,22.2 440.52,23.2 439.52,24.2 440.15,25.2 440.07,26.2 439.45,27.2 440.52,28.2 440.63,29.2 439.62,30.2 440.56,31.2 439.97,32.2 439.89,33.2 440.48,34.2 440.03,35.2 440.06,36.2 440.48,37.2 440.40,38.2 440.26,39.2 439.46,40.2 439.40,41.2 440.34,42.2 439.63,43.2 440.00,44.2 439.57,45.2 439.89,46.2 439.50,47.2 440.52,48.2 439.59,49.2 439.91,50.2 439.88,51.2 440.37,52.2 439.45,53.2 439.94,54.2 439.88,55.2 440.14,56.2 440.12,57.2 439.79,58.2 440.03,59.2 439.82,60.2 440.11,61.2 439.91,62.2 439.72,63.2 439.94,64.2 440.08,65.2 440.74,66.2 439.78,67.2 440.06,68.2 440.46,69.2 439.22,70.2 439.34,71.2 439.53,72.2 439.91,73.2 440.80,74.2 440.09,75.2 440.37,76.2 439.87,77.2 439.09,78.2 439.14,79.2 440.31,80.2 440.01,81.2 439.50,82.2 440.34,83.2 439.41,84.2 440.35,85.2 440.46,86.2 439.68,87.2 439.56,88.2 440.25,89.2 439.57,90.2 440.25,91.2 439.53,92.2 440.23,93.2 439.98,94.2 439.80,95.2 439.64,96.2 440.03,97.2 439.29,98.2 439.85,99.2 439.81,100.2 440.19,101.2 439.51,102.2 440.55,103.2 439.84,104.2 439.55,105.2 440.44,106.2 440.53,107.2 439.88,108.2 439.64,109.2 439.96,110.2 439.71,111.2 439.84,112.2 440.50,113.2 440.09,114.2 440.00,115.2 440.07,116.2 439.93,117.2 440.24,118.2 440.26,119.2 439.82,120.2 439.99,121.2 440.79,122.2 440.10,123.2 439.88,124.2 440.67,125.2 439.95,126.2 439.57,127.2 440.19,128.2 439.64,129.2 439.78,130.2 440.06,131.2 439.91,132.2 439.68,133.2 439.76,134.2 439.74,135.2 440.36,136.2 439.70,137.2 439.75,138.2 440.66,139.2 439.76,140.2 440.47,141.2 440.41,142.2 439.90,143.2 439.45,144.2 440.11,145.2 440.19,146.2 440.29,147.2 439.98,148.2 440.37,149.2 440.44,150.2 439.58,151.2 440.45,152.2 440.01,153.2 439.75,154.2 439.84,155.2 440.61,156.2 440.29,157.2 439.32,158.2 439.98,159.2 439.90,160.2 439.89,161.2 439.77,162.2 439.44,163.2 440.25,164.2 439.62,165.2 439.82,166.2 439.74,167.2 439.70,168.2 440.21,169.2 440.08,170.2 439.71,171.2 439.62,172.2 439.79,173.2 440.29,174.2 439.99,175.2 440.03,176.2 439.84,177.2 439.86,178.2 440.03,179.2 439.30,180.2 440.51,181.2 439.67,182.2 439.75,183.2 440.42,184.2 440.03,185.2 439.96,186.2 439.75,187.2 439.40,188.2 440.01,189.2 440.37,190.2 439.64,191.2 440.43,192.2 439.56,193.2 439.69,194.2 440.13,195.2 439.95,196.2 440.19,197.2 439.69,198.2 439.59,199.2 439.30,200.2 439.53,201.2 439.57,202.2 439.45,203.2 440.06,204.2" fill="none" stroke="#efb022" stroke-width="1.4" opacity="0.8"/>
<text x="34.90" y="177.96" font-size="11" text-anchor="end" fill="#000" stroke="#000" stroke-width="0.2" font-weight="normal" >0</text>
<text x="34.90" y="135.60" font-size="11" text-anchor="end" fill="#000" stroke="#000" stroke-width="0.2" font-weight="normal" >10</text>
<text x="34.90" y="93.23" font-size="11" text-anchor="end" fill="#000" stroke="#000" stroke-width="0.2" font-weight="normal" >20</text>
<text x="34.90" y="50.87" font-size="11" text-anchor="end" fill="#000" stroke="#000" stroke-width="0.2" font-weight="normal" >30</text>
<text x="34.90" y="8.50" font-size="11" text-anchor="end" fill="#000" stroke="#000" stroke-width="0.2" font-weight="normal" >40</text>
<text x="35.70" y="214.50" font-size="11" text-anchor="end" fill="#000" stroke="#000" stroke-width="0.2" font-weight="normal" >1</text>
<text x="35.70" y="269.84" font-size="11" text-anchor="end" fill="#000" stroke="#000" stroke-width="0.2" font-weight="normal" >0.5</text>
<text x="35.70" y="325.19" font-size="11" text-anchor="end" fill="#000" stroke="#000" stroke-width="0.2" font-weight="normal" >0</text>
<text x="35.70" y="380.53" font-size="11" text-anchor="end" fill="#000" stroke="#000" stroke-width="0.2" font-weight="normal" >-0.5</text>
<text x="42.80" y="402.90" font-size="11" text-anchor="middle" fill="#000" stroke="#000" stroke-width="0.2" font-weight="normal" >0</text>
<text x="105.27" y="402.90" font-size="11" text-anchor="middle" fill="#000" stroke="#000" stroke-width="0.2" font-weight="normal" >50</text>
<text x="167.75" y="402.90" font-size="11" text-anchor="middle" fill="#000" stroke="#000" stroke-width="0.2" font-weight="normal" >100</text>
<text x="230.23" y="402.90" font-size="11" text-anchor="middle" fill="#000" stroke="#000" stroke-width="0.2" font-weight="normal" >150</text>
<text x="292.70" y="402.90" font-size="11" text-anchor="middle" fill="#000" stroke="#000" stroke-width="0.2" font-weight="normal" >200</text>
<text x="166.45" y="418.30" font-size="11" text-anchor="middle" fill="#000" stroke="#000" stroke-width="0.2" font-weight="normal" >time (ps)</text>
<text x="316.60" y="402.90" font-size="11" text-anchor="middle" fill="#000" stroke="#000" stroke-width="0.2" font-weight="normal" >0</text>
<text x="378.65" y="402.90" font-size="11" text-anchor="middle" fill="#000" stroke="#000" stroke-width="0.2" font-weight="normal" >50</text>
<text x="440.70" y="402.90" font-size="11" text-anchor="middle" fill="#000" stroke="#000" stroke-width="0.2" font-weight="normal" >100</text>
<text x="502.75" y="402.90" font-size="11" text-anchor="middle" fill="#000" stroke="#000" stroke-width="0.2" font-weight="normal" >150</text>
<text x="564.80" y="402.90" font-size="11" text-anchor="middle" fill="#000" stroke="#000" stroke-width="0.2" font-weight="normal" >200</text>
<text x="439.40" y="418.30" font-size="11" text-anchor="middle" fill="#000" stroke="#000" stroke-width="0.2" font-weight="normal" >time (ps)</text>
<text x="53.60" y="157.20" font-size="19.5" text-anchor="start" fill="#000" stroke="#000" stroke-width="0.1" font-weight="normal" letter-spacing="-1.2">(a)</text>
<text x="330.60" y="164.60" font-size="19.5" text-anchor="start" fill="#000" stroke="#000" stroke-width="0.1" font-weight="normal" letter-spacing="-1.2">(c)</text>
<text x="52.90" y="373.40" font-size="19.5" text-anchor="start" fill="#000" stroke="#000" stroke-width="0.1" font-weight="normal" letter-spacing="-1.2">(b)</text>
<text x="322.60" y="373.40" font-size="19.5" text-anchor="start" fill="#000" stroke="#000" stroke-width="0.1" font-weight="normal" letter-spacing="-1.2">(d)</text>
<text x="285.05" y="224.90" font-size="13" text-anchor="end" fill="#1414ee" stroke="#1414ee" stroke-width="0" font-weight="bold" letter-spacing="0.45">170 K</text>
<text x="285.05" y="246.90" font-size="13" text-anchor="end" fill="#000" stroke="#000" stroke-width="0" font-weight="bold" letter-spacing="0.45">190 K</text>
<text x="285.05" y="268.50" font-size="13" text-anchor="end" fill="#ee1c0e" stroke="#ee1c0e" stroke-width="0" font-weight="bold" letter-spacing="0.45">210 K</text>
<text x="556.25" y="224.90" font-size="13" text-anchor="end" fill="#1414ee" stroke="#1414ee" stroke-width="0" font-weight="bold" letter-spacing="0.45">170 K</text>
<text x="556.25" y="246.90" font-size="13" text-anchor="end" fill="#000" stroke="#000" stroke-width="0" font-weight="bold" letter-spacing="0.45">190 K</text>
<text x="556.25" y="268.50" font-size="13" text-anchor="end" fill="#ee1c0e" stroke="#ee1c0e" stroke-width="0" font-weight="bold" letter-spacing="0.45">210 K</text>
<text x="235.0" y="75.0" font-family="Liberation Serif" font-style="italic" font-size="14.5" fill="#1414ee" stroke="#1414ee" stroke-width="0.25" xml:space="preserve">i : a</text>
<text x="235.0" y="91.5" font-family="Liberation Serif" font-style="italic" font-size="14.5" fill="#1414ee" stroke="#1414ee" stroke-width="0.25" xml:space="preserve">i : b</text>
<line x1="275.9" y1="69.0" x2="286.8" y2="69.0" stroke="#1414ee" stroke-width="1.5" stroke-dasharray="1.3 1.1"/>
<line x1="275.9" y1="85.5" x2="286.8" y2="85.5" stroke="#1414ee" stroke-width="1.6"/>
<text x="509.3" y="74.4" font-family="Liberation Serif" font-style="italic" font-size="14.5" fill="#1414ee" stroke="#1414ee" stroke-width="0.25" xml:space="preserve">i : a</text>
<text x="509.3" y="90.9" font-family="Liberation Serif" font-style="italic" font-size="14.5" fill="#1414ee" stroke="#1414ee" stroke-width="0.25" xml:space="preserve">i : b</text>
<line x1="550.2" y1="68.4" x2="561.1" y2="68.4" stroke="#1414ee" stroke-width="1.5" stroke-dasharray="1.3 1.1"/>
<line x1="550.2" y1="84.9" x2="561.1" y2="84.9" stroke="#1414ee" stroke-width="1.6"/>
<rect x="56.3" y="184.4" width="80.7" height="21.4" fill="#ecb73c"/>
<text x="59.3" y="200.2" font-size="14.5" fill="#fff" stroke="#fff" stroke-width="0.45" textLength="7.9" lengthAdjust="spacingAndGlyphs">E</text>
<text x="67.4" y="202.3" font-size="9.6" fill="#fff" stroke="#fff" stroke-width="0.3">b</text>
<text x="73.2" y="200.2" font-size="14.5" fill="#fff" stroke="#fff" stroke-width="0.45">:</text>
<text x="80.8" y="200.2" font-size="14.5" fill="#fff" stroke="#fff" stroke-width="0.45">0</text>
<path d="M93.3 195.3H103.5" stroke="#fff" stroke-width="1.7"/>
<path d="M100.7 192.3L104.9 195.3L100.7 198.3Z" fill="#fff"/>
<text x="110.3" y="200.2" font-size="14.5" fill="#fff" stroke="#fff" stroke-width="0.45" letter-spacing="-0.25">100</text>
<rect x="178.3" y="184.4" width="81.0" height="21.4" fill="#ecb73c"/>
<text x="181.3" y="200.2" font-size="14.5" fill="#fff" stroke="#fff" stroke-width="0.45" textLength="7.9" lengthAdjust="spacingAndGlyphs">E</text>
<text x="189.4" y="202.3" font-size="9.6" fill="#fff" stroke="#fff" stroke-width="0.3">b</text>
<text x="195.2" y="200.2" font-size="14.5" fill="#fff" stroke="#fff" stroke-width="0.45">:</text>
<text x="202.8" y="200.2" font-size="14.5" fill="#fff" stroke="#fff" stroke-width="0.45">0</text>
<path d="M215.3 195.3H225.5" stroke="#fff" stroke-width="1.7"/>
<path d="M222.7 192.3L226.9 195.3L222.7 198.3Z" fill="#fff"/>
<text x="232.3" y="200.2" font-size="14.5" fill="#fff" stroke="#fff" stroke-width="0.45" letter-spacing="-0.25">100</text>
<rect x="327.8" y="185.1" width="79.5" height="21.4" fill="#ecb73c"/>
<text x="330.8" y="200.9" font-size="14.5" fill="#fff" stroke="#fff" stroke-width="0.45" textLength="7.9" lengthAdjust="spacingAndGlyphs">E</text>
<text x="338.9" y="203.0" font-size="9.6" fill="#fff" stroke="#fff" stroke-width="0.3">a</text>
<text x="344.7" y="200.9" font-size="14.5" fill="#fff" stroke="#fff" stroke-width="0.45">:</text>
<text x="352.3" y="200.9" font-size="14.5" fill="#fff" stroke="#fff" stroke-width="0.45">0</text>
<path d="M364.8 196.0H375.0" stroke="#fff" stroke-width="1.7"/>
<path d="M372.2 193.0L376.4 196.0L372.2 199.0Z" fill="#fff"/>
<text x="381.8" y="200.9" font-size="14.5" fill="#fff" stroke="#fff" stroke-width="0.45" letter-spacing="-0.25">100</text>
<rect x="450.0" y="185.1" width="80.0" height="21.4" fill="#ecb73c"/>
<text x="453.0" y="200.9" font-size="14.5" fill="#fff" stroke="#fff" stroke-width="0.45" textLength="7.9" lengthAdjust="spacingAndGlyphs">E</text>
<text x="461.1" y="203.0" font-size="9.6" fill="#fff" stroke="#fff" stroke-width="0.3">a</text>
<text x="466.9" y="200.9" font-size="14.5" fill="#fff" stroke="#fff" stroke-width="0.45">:</text>
<text x="474.5" y="200.9" font-size="14.5" fill="#fff" stroke="#fff" stroke-width="0.45">0</text>
<path d="M487.0 196.0H497.2" stroke="#fff" stroke-width="1.7"/>
<path d="M494.4 193.0L498.6 196.0L494.4 199.0Z" fill="#fff"/>
<text x="504.0" y="200.9" font-size="14.5" fill="#fff" stroke="#fff" stroke-width="0.45" letter-spacing="-0.25">100</text>
<text transform="translate(11.9,287.6) rotate(-90)" font-size="11" stroke="#000" stroke-width="0.25" text-anchor="middle">ΔT (K)</text>
<text transform="translate(10.6,90.8) rotate(-90)" font-size="11.7" stroke="#000" stroke-width="0.1" text-anchor="start">(μC/cm²)</text>
<g transform="translate(10.6,114) rotate(-90)"><path d="M3.2 -10 L0.6 -3.4 L3.2 2.8" fill="none" stroke="#000" stroke-width="0.9"/><text x="4.6" y="0" font-family="Liberation Serif" font-style="italic" font-size="12.5" stroke="#000" stroke-width="0.15">p<tspan font-size="7.5" dy="2" stroke-width="0.1">i</tspan></text><path d="M14.6 -10 L17.2 -3.4 L14.6 2.8" fill="none" stroke="#000" stroke-width="0.9"/></g>
</svg>
</body></html>
